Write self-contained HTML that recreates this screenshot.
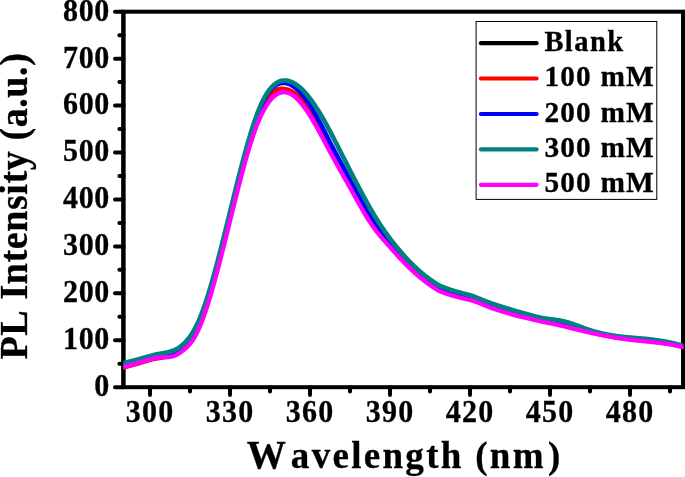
<!DOCTYPE html>
<html><head><meta charset="utf-8"><title>PL Intensity</title>
<style>html,body{margin:0;padding:0;background:#fff;}body{width:685px;height:477px;overflow:hidden;font-family:"Liberation Serif",serif;}svg{display:block;will-change:transform;}</style></head>
<body>
<svg width="685" height="477" viewBox="0 0 685 477">
<rect x="0" y="0" width="685" height="477" fill="#ffffff"/>
<defs><clipPath id="plot"><rect x="123.3" y="11.7" width="560.0999999999999" height="375.5"/></clipPath></defs>
<g stroke="#000" stroke-width="4.0" fill="none" stroke-linecap="round">
<rect x="123.5" y="11.7" width="559.8" height="375.5" stroke-linejoin="miter"/>
<line x1="123.3" y1="11.7" x2="123.3" y2="387.2" stroke-linecap="butt"/>
<line x1="683.05" y1="11.7" x2="683.05" y2="387.2" stroke-linecap="butt"/>
<line x1="123.5" y1="387.20" x2="115.00" y2="387.20"/>
<line x1="123.5" y1="363.73" x2="119.40" y2="363.73"/>
<line x1="123.5" y1="340.26" x2="115.00" y2="340.26"/>
<line x1="123.5" y1="316.79" x2="119.40" y2="316.79"/>
<line x1="123.5" y1="293.32" x2="115.00" y2="293.32"/>
<line x1="123.5" y1="269.86" x2="119.40" y2="269.86"/>
<line x1="123.5" y1="246.39" x2="115.00" y2="246.39"/>
<line x1="123.5" y1="222.92" x2="119.40" y2="222.92"/>
<line x1="123.5" y1="199.45" x2="115.00" y2="199.45"/>
<line x1="123.5" y1="175.98" x2="119.40" y2="175.98"/>
<line x1="123.5" y1="152.51" x2="115.00" y2="152.51"/>
<line x1="123.5" y1="129.04" x2="119.40" y2="129.04"/>
<line x1="123.5" y1="105.57" x2="115.00" y2="105.57"/>
<line x1="123.5" y1="82.11" x2="119.40" y2="82.11"/>
<line x1="123.5" y1="58.64" x2="115.00" y2="58.64"/>
<line x1="123.5" y1="35.17" x2="119.40" y2="35.17"/>
<line x1="123.5" y1="11.70" x2="115.00" y2="11.70"/>
<line x1="150.00" y1="387.2" x2="150.00" y2="395.00"/>
<line x1="190.00" y1="387.2" x2="190.00" y2="391.40"/>
<line x1="230.00" y1="387.2" x2="230.00" y2="395.00"/>
<line x1="270.00" y1="387.2" x2="270.00" y2="391.40"/>
<line x1="310.00" y1="387.2" x2="310.00" y2="395.00"/>
<line x1="350.00" y1="387.2" x2="350.00" y2="391.40"/>
<line x1="390.00" y1="387.2" x2="390.00" y2="395.00"/>
<line x1="430.00" y1="387.2" x2="430.00" y2="391.40"/>
<line x1="470.00" y1="387.2" x2="470.00" y2="395.00"/>
<line x1="510.00" y1="387.2" x2="510.00" y2="391.40"/>
<line x1="550.00" y1="387.2" x2="550.00" y2="395.00"/>
<line x1="590.00" y1="387.2" x2="590.00" y2="391.40"/>
<line x1="630.00" y1="387.2" x2="630.00" y2="395.00"/>
<line x1="670.00" y1="387.2" x2="670.00" y2="391.40"/>
</g>
<g clip-path="url(#plot)" fill="none" stroke-linejoin="round" stroke-linecap="butt">
<path d="M119.0 365.61L119.5 365.47L120.0 365.34L120.5 365.21L121.0 365.08L121.5 364.94L122.0 364.82L122.5 364.69L123.0 364.56L123.5 364.43L124.0 364.30L124.5 364.18L125.0 364.05L125.5 363.92L126.0 363.80L126.5 363.67L127.0 363.55L127.5 363.42L128.0 363.30L128.5 363.17L129.0 363.05L129.5 362.92L130.0 362.80L130.5 362.67L131.0 362.54L131.5 362.42L132.0 362.29L132.5 362.16L133.0 362.03L133.5 361.90L134.0 361.77L134.5 361.64L135.0 361.50L135.5 361.37L136.0 361.24L136.5 361.10L137.0 360.96L137.5 360.82L138.0 360.68L138.5 360.54L139.0 360.40L139.5 360.25L140.0 360.11L140.5 359.96L141.0 359.82L141.5 359.67L142.0 359.52L142.5 359.37L143.0 359.23L143.5 359.08L144.0 358.93L144.5 358.79L145.0 358.64L145.5 358.50L146.0 358.35L146.5 358.21L147.0 358.07L147.5 357.93L148.0 357.79L148.5 357.66L149.0 357.52L149.5 357.39L150.0 357.26L150.5 357.12L151.0 356.98L151.5 356.84L152.0 356.71L152.5 356.58L153.0 356.45L153.5 356.33L154.0 356.21L154.5 356.09L155.0 355.98L155.5 355.87L156.0 355.76L156.5 355.66L157.0 355.56L157.5 355.47L158.0 355.38L158.5 355.30L159.0 355.22L159.5 355.14L160.0 355.07L160.5 355.01L161.0 354.95L161.5 354.89L162.0 354.84L162.5 354.78L163.0 354.72L163.5 354.65L164.0 354.59L164.5 354.53L165.0 354.46L165.5 354.39L166.0 354.32L166.5 354.24L167.0 354.16L167.5 354.07L168.0 353.98L168.5 353.88L169.0 353.78L169.5 353.67L170.0 353.55L170.5 353.42L171.0 353.29L171.5 353.14L172.0 352.99L172.5 352.83L173.0 352.67L173.5 352.49L174.0 352.29L174.5 352.09L175.0 351.88L175.5 351.65L176.0 351.40L176.5 351.14L177.0 350.87L177.5 350.59L178.0 350.29L178.5 349.98L179.0 349.65L179.5 349.31L180.0 348.96L180.5 348.60L181.0 348.22L181.5 347.83L182.0 347.43L182.5 347.02L183.0 346.59L183.5 346.16L184.0 345.71L184.5 345.24L185.0 344.77L185.5 344.28L186.0 343.77L186.5 343.25L187.0 342.72L187.5 342.17L188.0 341.60L188.5 341.01L189.0 340.40L189.5 339.78L190.0 339.13L190.5 338.46L191.0 337.76L191.5 337.04L192.0 336.30L192.5 335.53L193.0 334.74L193.5 333.91L194.0 333.06L194.5 332.18L195.0 331.27L195.5 330.35L196.0 329.40L196.5 328.42L197.0 327.42L197.5 326.38L198.0 325.31L198.5 324.22L199.0 323.10L199.5 321.95L200.0 320.77L200.5 319.56L201.0 318.32L201.5 317.05L202.0 315.76L202.5 314.44L203.0 313.10L203.5 311.73L204.0 310.34L204.5 308.93L205.0 307.49L205.5 306.01L206.0 304.50L206.5 302.98L207.0 301.43L207.5 299.86L208.0 298.27L208.5 296.66L209.0 295.03L209.5 293.38L210.0 291.71L210.5 290.03L211.0 288.32L211.5 286.60L212.0 284.87L212.5 283.11L213.0 281.34L213.5 279.56L214.0 277.76L214.5 275.94L215.0 274.11L215.5 272.28L216.0 270.44L216.5 268.58L217.0 266.71L217.5 264.82L218.0 262.93L218.5 261.02L219.0 259.11L219.5 257.18L220.0 255.25L220.5 253.30L221.0 251.35L221.5 249.39L222.0 247.42L222.5 245.45L223.0 243.47L223.5 241.48L224.0 239.48L224.5 237.48L225.0 235.48L225.5 233.47L226.0 231.45L226.5 229.44L227.0 227.42L227.5 225.39L228.0 223.37L228.5 221.34L229.0 219.31L229.5 217.29L230.0 215.26L230.5 213.23L231.0 211.20L231.5 209.17L232.0 207.14L232.5 205.12L233.0 203.10L233.5 201.08L234.0 199.06L234.5 197.05L235.0 195.04L235.5 193.04L236.0 191.04L236.5 189.04L237.0 187.06L237.5 185.08L238.0 183.10L238.5 181.14L239.0 179.18L239.5 177.23L240.0 175.29L240.5 173.36L241.0 171.43L241.5 169.52L242.0 167.62L242.5 165.73L243.0 163.85L243.5 161.99L244.0 160.13L244.5 158.29L245.0 156.47L245.5 154.66L246.0 152.86L246.5 151.08L247.0 149.31L247.5 147.56L248.0 145.83L248.5 144.12L249.0 142.42L249.5 140.74L250.0 139.09L250.5 137.45L251.0 135.83L251.5 134.23L252.0 132.65L252.5 131.10L253.0 129.57L253.5 128.06L254.0 126.57L254.5 125.11L255.0 123.68L255.5 122.17L256.0 120.68L256.5 119.22L257.0 117.78L257.5 116.37L258.0 114.98L258.5 113.62L259.0 112.29L259.5 110.99L260.0 109.71L260.5 108.46L261.0 107.24L261.5 106.05L262.0 104.88L262.5 103.74L263.0 102.63L263.5 101.55L264.0 100.49L264.5 99.46L265.0 98.46L265.5 97.48L266.0 96.53L266.5 95.61L267.0 94.71L267.5 93.84L268.0 92.99L268.5 92.32L269.0 91.67L269.5 91.04L270.0 90.44L270.5 89.87L271.0 89.32L271.5 88.80L272.0 88.29L272.5 87.82L273.0 87.36L273.5 86.93L274.0 86.53L274.5 86.14L275.0 85.78L275.5 85.44L276.0 85.13L276.5 84.83L277.0 84.56L277.5 84.31L278.0 84.08L278.5 83.87L279.0 83.68L279.5 83.51L280.0 83.36L280.5 83.24L281.0 83.13L281.5 83.04L282.0 82.97L282.5 82.93L283.0 82.90L283.5 82.89L284.0 82.90L284.5 82.92L285.0 82.97L285.5 83.04L286.0 83.12L286.5 83.23L287.0 83.35L287.5 83.49L288.0 83.65L288.5 83.82L289.0 84.01L289.5 84.22L290.0 84.44L290.5 84.68L291.0 84.94L291.5 85.21L292.0 85.50L292.5 85.80L293.0 86.12L293.5 86.46L294.0 86.81L294.5 87.17L295.0 87.55L295.5 87.95L296.0 88.36L296.5 88.79L297.0 89.23L297.5 89.69L298.0 90.16L298.5 90.64L299.0 91.14L299.5 91.65L300.0 92.18L300.5 92.72L301.0 93.28L301.5 93.84L302.0 94.43L302.5 95.02L303.0 95.63L303.5 96.25L304.0 96.89L304.5 97.54L305.0 98.20L305.5 98.87L306.0 99.55L306.5 100.25L307.0 100.95L307.5 101.67L308.0 102.40L308.5 103.14L309.0 103.89L309.5 104.66L310.0 105.43L310.5 106.21L311.0 107.01L311.5 107.81L312.0 108.62L312.5 109.45L313.0 110.28L313.5 111.12L314.0 111.97L314.5 112.83L315.0 113.70L315.5 114.58L316.0 115.46L316.5 116.35L317.0 117.25L317.5 118.16L318.0 119.08L318.5 120.00L319.0 120.93L319.5 121.86L320.0 122.80L320.5 123.75L321.0 124.70L321.5 125.66L322.0 126.63L322.5 127.60L323.0 128.57L323.5 129.55L324.0 130.53L324.5 131.52L325.0 132.51L325.5 133.51L326.0 134.50L326.5 135.50L327.0 136.51L327.5 137.52L328.0 138.52L328.5 139.54L329.0 140.55L329.5 141.56L330.0 142.58L330.5 143.52L331.0 144.46L331.5 145.40L332.0 146.34L332.5 147.27L333.0 148.20L333.5 149.13L334.0 150.07L334.5 151.00L335.0 151.94L335.5 152.87L336.0 153.81L336.5 154.75L337.0 155.68L337.5 156.62L338.0 157.56L338.5 158.49L339.0 159.42L339.5 160.35L340.0 161.28L340.5 162.21L341.0 163.14L341.5 164.07L342.0 165.01L342.5 165.94L343.0 166.87L343.5 167.80L344.0 168.73L344.5 169.66L345.0 170.60L345.5 171.53L346.0 172.46L346.5 173.39L347.0 174.32L347.5 175.25L348.0 176.18L348.5 177.11L349.0 178.04L349.5 178.97L350.0 179.90L350.5 180.84L351.0 181.78L351.5 182.71L352.0 183.65L352.5 184.58L353.0 185.52L353.5 186.45L354.0 187.38L354.5 188.31L355.0 189.24L355.5 190.16L356.0 191.08L356.5 192.00L357.0 192.92L357.5 193.84L358.0 194.75L358.5 195.66L359.0 196.56L359.5 197.48L360.0 198.40L360.5 199.32L361.0 200.23L361.5 201.14L362.0 202.04L362.5 202.94L363.0 203.83L363.5 204.72L364.0 205.60L364.5 206.48L365.0 207.36L365.5 208.22L366.0 209.09L366.5 209.95L367.0 210.80L367.5 211.65L368.0 212.49L368.5 213.32L369.0 214.15L369.5 214.98L370.0 215.80L370.5 216.60L371.0 217.40L371.5 218.19L372.0 218.98L372.5 219.76L373.0 220.53L373.5 221.30L374.0 222.05L374.5 222.81L375.0 223.55L375.5 224.29L376.0 225.02L376.5 225.74L377.0 226.46L377.5 227.17L378.0 227.87L378.5 228.57L379.0 229.26L379.5 229.95L380.0 230.63L380.5 231.29L381.0 231.95L381.5 232.60L382.0 233.25L382.5 233.89L383.0 234.53L383.5 235.16L384.0 235.79L384.5 236.42L385.0 237.04L385.5 237.65L386.0 238.26L386.5 238.90L387.0 239.54L387.5 240.17L388.0 240.80L388.5 241.42L389.0 242.04L389.5 242.66L390.0 243.28L390.5 243.89L391.0 244.50L391.5 245.11L392.0 245.71L392.5 246.31L393.0 246.91L393.5 247.50L394.0 248.10L394.5 248.69L395.0 249.27L395.5 249.86L396.0 250.44L396.5 251.02L397.0 251.59L397.5 252.16L398.0 252.73L398.5 253.30L399.0 253.86L399.5 254.42L400.0 254.98L400.5 255.53L401.0 256.09L401.5 256.64L402.0 257.19L402.5 257.74L403.0 258.28L403.5 258.82L404.0 259.36L404.5 259.90L405.0 260.43L405.5 260.95L406.0 261.48L406.5 262.00L407.0 262.52L407.5 263.03L408.0 263.55L408.5 264.06L409.0 264.56L409.5 265.06L410.0 265.56L410.5 266.06L411.0 266.55L411.5 267.04L412.0 267.53L412.5 268.01L413.0 268.49L413.5 268.97L414.0 269.44L414.5 269.91L415.0 270.37L415.5 270.83L416.0 271.28L416.5 271.73L417.0 272.17L417.5 272.62L418.0 273.06L418.5 273.49L419.0 273.92L419.5 274.35L420.0 274.77L420.5 275.20L421.0 275.61L421.5 276.03L422.0 276.44L422.5 276.85L423.0 277.25L423.5 277.65L424.0 278.05L424.5 278.44L425.0 278.83L425.5 279.21L426.0 279.60L426.5 279.98L427.0 280.35L427.5 280.72L428.0 281.09L428.5 281.46L429.0 281.82L429.5 282.17L430.0 282.53L430.5 282.88L431.0 283.23L431.5 283.58L432.0 283.93L432.5 284.27L433.0 284.60L433.5 284.94L434.0 285.27L434.5 285.59L435.0 285.92L435.5 286.24L436.0 286.55L436.5 286.86L437.0 287.17L437.5 287.48L438.0 287.78L438.5 288.08L439.0 288.37L439.5 288.59L440.0 288.81L440.5 289.02L441.0 289.23L441.5 289.44L442.0 289.64L442.5 289.84L443.0 290.04L443.5 290.23L444.0 290.42L444.5 290.61L445.0 290.79L445.5 290.98L446.0 291.16L446.5 291.33L447.0 291.51L447.5 291.68L448.0 291.85L448.5 292.01L449.0 292.18L449.5 292.34L450.0 292.50L450.5 292.65L451.0 292.81L451.5 292.96L452.0 293.12L452.5 293.27L453.0 293.42L453.5 293.57L454.0 293.72L454.5 293.86L455.0 294.01L455.5 294.15L456.0 294.29L456.5 294.43L457.0 294.57L457.5 294.70L458.0 294.84L458.5 294.97L459.0 295.10L459.5 295.23L460.0 295.36L460.5 295.49L461.0 295.62L461.5 295.75L462.0 295.88L462.5 296.00L463.0 296.13L463.5 296.25L464.0 296.37L464.5 296.50L465.0 296.62L465.5 296.74L466.0 296.86L466.5 296.98L467.0 297.10L467.5 297.23L468.0 297.35L468.5 297.47L469.0 297.59L469.5 297.71L470.0 297.83L470.5 297.95L471.0 298.07L471.5 298.19L472.0 298.32L472.5 298.50L473.0 298.70L473.5 298.89L474.0 299.08L474.5 299.27L475.0 299.46L475.5 299.65L476.0 299.85L476.5 300.04L477.0 300.23L477.5 300.43L478.0 300.62L478.5 300.82L479.0 301.02L479.5 301.22L480.0 301.42L480.5 301.62L481.0 301.82L481.5 302.02L482.0 302.22L482.5 302.42L483.0 302.63L483.5 302.83L484.0 303.04L484.5 303.25L485.0 303.45L485.5 303.64L486.0 303.83L486.5 304.02L487.0 304.21L487.5 304.40L488.0 304.60L488.5 304.79L489.0 304.98L489.5 305.17L490.0 305.37L490.5 305.56L491.0 305.75L491.5 305.95L492.0 306.14L492.5 306.30L493.0 306.47L493.5 306.63L494.0 306.79L494.5 306.95L495.0 307.12L495.5 307.28L496.0 307.44L496.5 307.60L497.0 307.76L497.5 307.92L498.0 308.08L498.5 308.24L499.0 308.40L499.5 308.56L500.0 308.72L500.5 308.88L501.0 309.03L501.5 309.19L502.0 309.35L502.5 309.50L503.0 309.66L503.5 309.81L504.0 309.96L504.5 310.11L505.0 310.26L505.5 310.41L506.0 310.56L506.5 310.71L507.0 310.85L507.5 311.00L508.0 311.14L508.5 311.31L509.0 311.47L509.5 311.63L510.0 311.79L510.5 311.94L511.0 312.10L511.5 312.25L512.0 312.41L512.5 312.56L513.0 312.71L513.5 312.85L514.0 313.00L514.5 313.14L515.0 313.29L515.5 313.43L516.0 313.56L516.5 313.70L517.0 313.84L517.5 313.97L518.0 314.10L518.5 314.23L519.0 314.36L519.5 314.49L520.0 314.62L520.5 314.74L521.0 314.87L521.5 314.99L522.0 315.11L522.5 315.23L523.0 315.34L523.5 315.46L524.0 315.57L524.5 315.69L525.0 315.80L525.5 315.91L526.0 316.02L526.5 316.16L527.0 316.30L527.5 316.44L528.0 316.57L528.5 316.71L529.0 316.84L529.5 316.98L530.0 317.11L530.5 317.24L531.0 317.37L531.5 317.50L532.0 317.63L532.5 317.76L533.0 317.88L533.5 318.01L534.0 318.13L534.5 318.25L535.0 318.38L535.5 318.50L536.0 318.62L536.5 318.74L537.0 318.86L537.5 318.98L538.0 319.09L538.5 319.21L539.0 319.33L539.5 319.44L540.0 319.56L540.5 319.67L541.0 319.79L541.5 319.90L542.0 320.01L542.5 320.12L543.0 320.23L543.5 320.34L544.0 320.45L544.5 320.54L545.0 320.62L545.5 320.70L546.0 320.78L546.5 320.86L547.0 320.94L547.5 321.02L548.0 321.10L548.5 321.18L549.0 321.26L549.5 321.34L550.0 321.42L550.5 321.50L551.0 321.58L551.5 321.66L552.0 321.75L552.5 321.83L553.0 321.92L553.5 322.00L554.0 322.09L554.5 322.18L555.0 322.27L555.5 322.36L556.0 322.45L556.5 322.54L557.0 322.64L557.5 322.73L558.0 322.83L558.5 322.93L559.0 323.03L559.5 323.13L560.0 323.23L560.5 323.34L561.0 323.44L561.5 323.55L562.0 323.66L562.5 323.78L563.0 323.89L563.5 324.01L564.0 324.13L564.5 324.25L565.0 324.37L565.5 324.49L566.0 324.62L566.5 324.75L567.0 324.88L567.5 325.01L568.0 325.14L568.5 325.28L569.0 325.42L569.5 325.55L570.0 325.69L570.5 325.83L571.0 325.97L571.5 326.12L572.0 326.26L572.5 326.41L573.0 326.55L573.5 326.70L574.0 326.84L574.5 326.99L575.0 327.14L575.5 327.29L576.0 327.44L576.5 327.59L577.0 327.74L577.5 327.89L578.0 328.04L578.5 328.19L579.0 328.34L579.5 328.49L580.0 328.64L580.5 328.78L581.0 328.93L581.5 329.08L582.0 329.23L582.5 329.38L583.0 329.53L583.5 329.68L584.0 329.82L584.5 329.97L585.0 330.11L585.5 330.26L586.0 330.40L586.5 330.55L587.0 330.69L587.5 330.83L588.0 330.97L588.5 331.11L589.0 331.25L589.5 331.38L590.0 331.52L590.5 331.65L591.0 331.78L591.5 331.91L592.0 332.04L592.5 332.17L593.0 332.30L593.5 332.43L594.0 332.55L594.5 332.67L595.0 332.80L595.5 332.92L596.0 333.04L596.5 333.16L597.0 333.27L597.5 333.39L598.0 333.50L598.5 333.62L599.0 333.73L599.5 333.84L600.0 333.95L600.5 334.06L601.0 334.17L601.5 334.28L602.0 334.38L602.5 334.49L603.0 334.59L603.5 334.69L604.0 334.80L604.5 334.90L605.0 335.00L605.5 335.10L606.0 335.19L606.5 335.29L607.0 335.38L607.5 335.48L608.0 335.57L608.5 335.66L609.0 335.76L609.5 335.85L610.0 335.94L610.5 336.02L611.0 336.11L611.5 336.20L612.0 336.28L612.5 336.37L613.0 336.45L613.5 336.54L614.0 336.62L614.5 336.70L615.0 336.78L615.5 336.86L616.0 336.94L616.5 337.02L617.0 337.09L617.5 337.17L618.0 337.24L618.5 337.32L619.0 337.39L619.5 337.46L620.0 337.54L620.5 337.60L621.0 337.67L621.5 337.74L622.0 337.80L622.5 337.86L623.0 337.93L623.5 337.99L624.0 338.05L624.5 338.11L625.0 338.17L625.5 338.23L626.0 338.29L626.5 338.35L627.0 338.41L627.5 338.46L628.0 338.52L628.5 338.58L629.0 338.63L629.5 338.69L630.0 338.74L630.5 338.79L631.0 338.85L631.5 338.90L632.0 338.95L632.5 339.00L633.0 339.05L633.5 339.10L634.0 339.15L634.5 339.20L635.0 339.25L635.5 339.30L636.0 339.35L636.5 339.40L637.0 339.45L637.5 339.49L638.0 339.54L638.5 339.59L639.0 339.64L639.5 339.68L640.0 339.73L640.5 339.78L641.0 339.82L641.5 339.87L642.0 339.92L642.5 339.97L643.0 340.01L643.5 340.06L644.0 340.11L644.5 340.15L645.0 340.20L645.5 340.25L646.0 340.30L646.5 340.34L647.0 340.39L647.5 340.45L648.0 340.50L648.5 340.56L649.0 340.61L649.5 340.67L650.0 340.72L650.5 340.78L651.0 340.84L651.5 340.89L652.0 340.95L652.5 341.01L653.0 341.07L653.5 341.13L654.0 341.19L654.5 341.25L655.0 341.31L655.5 341.37L656.0 341.44L656.5 341.50L657.0 341.56L657.5 341.63L658.0 341.69L658.5 341.76L659.0 341.83L659.5 341.89L660.0 341.96L660.5 342.03L661.0 342.10L661.5 342.18L662.0 342.25L662.5 342.32L663.0 342.40L663.5 342.47L664.0 342.55L664.5 342.63L665.0 342.71L665.5 342.79L666.0 342.87L666.5 342.95L667.0 343.03L667.5 343.12L668.0 343.21L668.5 343.29L669.0 343.38L669.5 343.47L670.0 343.56L670.5 343.66L671.0 343.75L671.5 343.85L672.0 343.94L672.5 344.04L673.0 344.14L673.5 344.25L674.0 344.35L674.5 344.45L675.0 344.56L675.5 344.67L676.0 344.79L676.5 344.90L677.0 345.02L677.5 345.13L678.0 345.25L678.5 345.38L679.0 345.50L679.5 345.62L680.0 345.75L680.5 345.88L681.0 346.01L681.5 346.14L682.0 346.28L682.5 346.42L683.0 346.55L683.5 346.70L684.0 346.84L684.5 346.98L685.0 347.13L685.5 347.28L686.0 347.43L686.5 347.58L687.0 347.74L687.5 347.90L688.0 348.06L688.5 348.22L689.0 348.39L689.5 348.55L690.0 348.72" stroke="#000000" stroke-width="2.6"/>
<path d="M119.0 368.82L119.5 368.66L120.0 368.51L120.5 368.36L121.0 368.21L121.5 368.06L122.0 367.92L122.5 367.77L123.0 367.63L123.5 367.49L124.0 367.35L124.5 367.21L125.0 367.07L125.5 366.94L126.0 366.80L126.5 366.67L127.0 366.53L127.5 366.40L128.0 366.27L128.5 366.13L129.0 366.00L129.5 365.87L130.0 365.74L130.5 365.60L131.0 365.47L131.5 365.34L132.0 365.20L132.5 365.07L133.0 364.94L133.5 364.80L134.0 364.66L134.5 364.53L135.0 364.39L135.5 364.25L136.0 364.11L136.5 363.96L137.0 363.82L137.5 363.67L138.0 363.53L138.5 363.38L139.0 363.23L139.5 363.07L140.0 362.92L140.5 362.77L141.0 362.61L141.5 362.46L142.0 362.30L142.5 362.15L143.0 361.99L143.5 361.83L144.0 361.68L144.5 361.52L145.0 361.37L145.5 361.22L146.0 361.07L146.5 360.91L147.0 360.77L147.5 360.62L148.0 360.47L148.5 360.33L149.0 360.19L149.5 360.05L150.0 359.91L150.5 359.78L151.0 359.65L151.5 359.53L152.0 359.41L152.5 359.29L153.0 359.17L153.5 359.06L154.0 358.96L154.5 358.85L155.0 358.76L155.5 358.66L156.0 358.57L156.5 358.49L157.0 358.41L157.5 358.34L158.0 358.27L158.5 358.21L159.0 358.15L159.5 358.10L160.0 358.05L160.5 357.93L161.0 357.82L161.5 357.70L162.0 357.58L162.5 357.45L163.0 357.33L163.5 357.20L164.0 357.06L164.5 356.92L165.0 356.78L165.5 356.62L166.0 356.46L166.5 356.30L167.0 356.12L167.5 355.94L168.0 355.75L168.5 355.54L169.0 355.33L169.5 355.11L170.0 354.87L170.5 354.62L171.0 354.36L171.5 354.09L172.0 353.80L172.5 353.65L173.0 353.48L173.5 353.30L174.0 353.12L174.5 352.92L175.0 352.70L175.5 352.48L176.0 352.23L176.5 351.98L177.0 351.71L177.5 351.43L178.0 351.13L178.5 350.82L179.0 350.50L179.5 350.17L180.0 349.82L180.5 349.46L181.0 349.09L181.5 348.71L182.0 348.32L182.5 347.91L183.0 347.50L183.5 347.07L184.0 346.63L184.5 346.18L185.0 345.71L185.5 345.23L186.0 344.74L186.5 344.23L187.0 343.71L187.5 343.17L188.0 342.62L188.5 342.04L189.0 341.45L189.5 340.83L190.0 340.19L190.5 339.54L191.0 338.85L191.5 338.15L192.0 337.42L192.5 336.66L193.0 335.88L193.5 335.07L194.0 334.23L194.5 333.36L195.0 332.46L195.5 331.54L196.0 330.60L196.5 329.63L197.0 328.63L197.5 327.60L198.0 326.54L198.5 325.45L199.0 324.34L199.5 323.19L200.0 322.02L200.5 320.81L201.0 319.57L201.5 318.31L202.0 317.02L202.5 315.70L203.0 314.36L203.5 312.99L204.0 311.60L204.5 310.19L205.0 308.75L205.5 307.27L206.0 305.77L206.5 304.25L207.0 302.70L207.5 301.13L208.0 299.55L208.5 297.94L209.0 296.31L209.5 294.67L210.0 293.00L210.5 291.32L211.0 289.61L211.5 287.89L212.0 286.16L212.5 284.40L213.0 282.64L213.5 280.85L214.0 279.05L214.5 277.24L215.0 275.41L215.5 273.58L216.0 271.73L216.5 269.88L217.0 268.01L217.5 266.13L218.0 264.24L218.5 262.34L219.0 260.42L219.5 258.50L220.0 256.57L220.5 254.62L221.0 252.67L221.5 250.71L222.0 248.75L222.5 246.77L223.0 244.79L223.5 242.80L224.0 240.81L224.5 238.81L225.0 236.81L225.5 234.80L226.0 232.79L226.5 230.77L227.0 228.75L227.5 226.73L228.0 224.71L228.5 222.68L229.0 220.65L229.5 218.62L230.0 216.59L230.5 214.57L231.0 212.54L231.5 210.51L232.0 208.49L232.5 206.46L233.0 204.44L233.5 202.42L234.0 200.41L234.5 198.40L235.0 196.39L235.5 194.39L236.0 192.39L236.5 190.40L237.0 188.41L237.5 186.43L238.0 184.46L238.5 182.50L239.0 180.54L239.5 178.59L240.0 176.65L240.5 174.72L241.0 172.80L241.5 170.90L242.0 169.00L242.5 167.11L243.0 165.24L243.5 163.38L244.0 161.53L244.5 159.69L245.0 157.87L245.5 156.06L246.0 154.27L246.5 152.50L247.0 150.74L247.5 148.99L248.0 147.27L248.5 145.56L249.0 143.87L249.5 142.20L250.0 140.55L250.5 138.92L251.0 137.31L251.5 135.72L252.0 134.15L252.5 132.60L253.0 131.08L253.5 129.58L254.0 128.10L254.5 126.65L255.0 125.22L255.5 123.82L256.0 122.44L256.5 121.09L257.0 119.76L257.5 118.47L258.0 117.20L258.5 115.95L259.0 114.74L259.5 113.55L260.0 112.39L260.5 111.26L261.0 110.15L261.5 109.08L262.0 108.03L262.5 107.01L263.0 106.01L263.5 105.05L264.0 104.11L264.5 103.19L265.0 102.31L265.5 101.45L266.0 100.61L266.5 99.80L267.0 99.02L267.5 98.26L268.0 97.53L268.5 96.83L269.0 96.14L269.5 95.49L270.0 94.85L270.5 94.34L271.0 93.84L271.5 93.38L272.0 92.93L272.5 92.51L273.0 92.11L273.5 91.74L274.0 91.39L274.5 91.06L275.0 90.76L275.5 90.47L276.0 90.21L276.5 89.97L277.0 89.76L277.5 89.56L278.0 89.39L278.5 89.24L279.0 89.11L279.5 89.00L280.0 88.92L280.5 88.85L281.0 88.81L281.5 88.78L282.0 88.78L282.5 88.80L283.0 88.83L283.5 88.89L284.0 88.97L284.5 89.07L285.0 89.18L285.5 89.23L286.0 89.30L286.5 89.38L287.0 89.49L287.5 89.61L288.0 89.76L288.5 89.92L289.0 90.09L289.5 90.29L290.0 90.51L290.5 90.74L291.0 90.99L291.5 91.26L292.0 91.54L292.5 91.85L293.0 92.16L293.5 92.50L294.0 92.85L294.5 93.22L295.0 93.61L295.5 94.01L296.0 94.43L296.5 94.86L297.0 95.31L297.5 95.77L298.0 96.25L298.5 96.74L299.0 97.25L299.5 97.77L300.0 98.31L300.5 98.85L301.0 99.41L301.5 99.98L302.0 100.56L302.5 101.16L303.0 101.77L303.5 102.39L304.0 103.02L304.5 103.67L305.0 104.32L305.5 104.99L306.0 105.67L306.5 106.36L307.0 107.06L307.5 107.77L308.0 108.49L308.5 109.22L309.0 109.96L309.5 110.71L310.0 111.47L310.5 112.23L311.0 113.01L311.5 113.80L312.0 114.59L312.5 115.39L313.0 116.20L313.5 117.01L314.0 117.84L314.5 118.67L315.0 119.51L315.5 120.35L316.0 121.20L316.5 122.06L317.0 122.92L317.5 123.79L318.0 124.66L318.5 125.54L319.0 126.43L319.5 127.31L320.0 128.21L320.5 129.11L321.0 130.01L321.5 130.91L322.0 131.82L322.5 132.74L323.0 133.65L323.5 134.57L324.0 135.49L324.5 136.42L325.0 137.34L325.5 138.27L326.0 139.20L326.5 140.13L327.0 141.06L327.5 142.00L328.0 142.93L328.5 143.87L329.0 144.80L329.5 145.74L330.0 146.67L330.5 147.61L331.0 148.55L331.5 149.48L332.0 150.42L332.5 151.34L333.0 152.25L333.5 153.17L334.0 154.09L334.5 155.01L335.0 155.93L335.5 156.85L336.0 157.77L336.5 158.69L337.0 159.60L337.5 160.52L338.0 161.44L338.5 162.35L339.0 163.27L339.5 164.18L340.0 165.09L340.5 166.00L341.0 166.92L341.5 167.83L342.0 168.74L342.5 169.65L343.0 170.56L343.5 171.47L344.0 172.39L344.5 173.30L345.0 174.21L345.5 175.12L346.0 176.03L346.5 176.94L347.0 177.85L347.5 178.76L348.0 179.67L348.5 180.58L349.0 181.49L349.5 182.40L350.0 183.31L350.5 184.24L351.0 185.16L351.5 186.08L352.0 187.00L352.5 187.92L353.0 188.84L353.5 189.76L354.0 190.68L354.5 191.60L355.0 192.52L355.5 193.43L356.0 194.34L356.5 195.25L357.0 196.16L357.5 197.07L358.0 197.97L358.5 198.87L359.0 199.77L359.5 200.67L360.0 201.57L360.5 202.47L361.0 203.37L361.5 204.26L362.0 205.14L362.5 206.02L363.0 206.90L363.5 207.77L364.0 208.64L364.5 209.50L365.0 210.36L365.5 211.21L366.0 212.06L366.5 212.90L367.0 213.74L367.5 214.57L368.0 215.39L368.5 216.21L369.0 217.02L369.5 217.82L370.0 218.62L370.5 219.41L371.0 220.18L371.5 220.95L372.0 221.71L372.5 222.47L373.0 223.21L373.5 223.95L374.0 224.68L374.5 225.40L375.0 226.12L375.5 226.83L376.0 227.52L376.5 228.22L377.0 228.90L377.5 229.58L378.0 230.25L378.5 230.91L379.0 231.57L379.5 232.22L380.0 232.86L380.5 233.49L381.0 234.12L381.5 234.74L382.0 235.36L382.5 235.97L383.0 236.57L383.5 237.17L384.0 237.77L384.5 238.36L385.0 238.94L385.5 239.53L386.0 240.10L386.5 240.72L387.0 241.34L387.5 241.95L388.0 242.56L388.5 243.16L389.0 243.76L389.5 244.36L390.0 244.96L390.5 245.56L391.0 246.15L391.5 246.74L392.0 247.33L392.5 247.91L393.0 248.50L393.5 249.08L394.0 249.66L394.5 250.23L395.0 250.81L395.5 251.38L396.0 251.95L396.5 252.51L397.0 253.08L397.5 253.64L398.0 254.20L398.5 254.76L399.0 255.31L399.5 255.86L400.0 256.41L400.5 256.96L401.0 257.50L401.5 258.04L402.0 258.58L402.5 259.11L403.0 259.64L403.5 260.17L404.0 260.70L404.5 261.22L405.0 261.75L405.5 262.26L406.0 262.78L406.5 263.29L407.0 263.80L407.5 264.31L408.0 264.82L408.5 265.32L409.0 265.82L409.5 266.31L410.0 266.81L410.5 267.30L411.0 267.79L411.5 268.27L412.0 268.75L412.5 269.23L413.0 269.71L413.5 270.18L414.0 270.65L414.5 271.12L415.0 271.58L415.5 272.03L416.0 272.48L416.5 272.92L417.0 273.36L417.5 273.79L418.0 274.23L418.5 274.66L419.0 275.09L419.5 275.51L420.0 275.93L420.5 276.35L421.0 276.76L421.5 277.17L422.0 277.58L422.5 277.99L423.0 278.39L423.5 278.79L424.0 279.18L424.5 279.57L425.0 279.96L425.5 280.34L426.0 280.73L426.5 281.10L427.0 281.48L427.5 281.85L428.0 282.22L428.5 282.58L429.0 282.94L429.5 283.30L430.0 283.65L430.5 284.00L431.0 284.35L431.5 284.70L432.0 285.04L432.5 285.38L433.0 285.71L433.5 286.05L434.0 286.37L434.5 286.70L435.0 287.02L435.5 287.34L436.0 287.65L436.5 287.96L437.0 288.27L437.5 288.57L438.0 288.87L438.5 289.16L439.0 289.46L439.5 289.68L440.0 289.89L440.5 290.10L441.0 290.31L441.5 290.52L442.0 290.72L442.5 290.92L443.0 291.11L443.5 291.30L444.0 291.49L444.5 291.68L445.0 291.86L445.5 292.04L446.0 292.21L446.5 292.39L447.0 292.56L447.5 292.73L448.0 292.89L448.5 293.05L449.0 293.21L449.5 293.37L450.0 293.53L450.5 293.68L451.0 293.83L451.5 293.98L452.0 294.14L452.5 294.29L453.0 294.44L453.5 294.59L454.0 294.74L454.5 294.88L455.0 295.02L455.5 295.17L456.0 295.30L456.5 295.44L457.0 295.58L457.5 295.71L458.0 295.85L458.5 295.98L459.0 296.11L459.5 296.24L460.0 296.37L460.5 296.49L461.0 296.62L461.5 296.74L462.0 296.87L462.5 296.99L463.0 297.11L463.5 297.24L464.0 297.36L464.5 297.48L465.0 297.60L465.5 297.72L466.0 297.83L466.5 297.95L467.0 298.07L467.5 298.19L468.0 298.31L468.5 298.42L469.0 298.54L469.5 298.66L470.0 298.78L470.5 298.89L471.0 299.01L471.5 299.13L472.0 299.25L472.5 299.44L473.0 299.62L473.5 299.81L474.0 300.00L474.5 300.18L475.0 300.37L475.5 300.56L476.0 300.75L476.5 300.94L477.0 301.13L477.5 301.32L478.0 301.52L478.5 301.71L479.0 301.91L479.5 302.10L480.0 302.30L480.5 302.50L481.0 302.70L481.5 302.90L482.0 303.10L482.5 303.30L483.0 303.50L483.5 303.71L484.0 303.92L484.5 304.12L485.0 304.33L485.5 304.52L486.0 304.71L486.5 304.91L487.0 305.10L487.5 305.30L488.0 305.49L488.5 305.69L489.0 305.88L489.5 306.08L490.0 306.28L490.5 306.47L491.0 306.67L491.5 306.87L492.0 307.07L492.5 307.23L493.0 307.39L493.5 307.55L494.0 307.71L494.5 307.87L495.0 308.04L495.5 308.20L496.0 308.36L496.5 308.52L497.0 308.68L497.5 308.84L498.0 309.00L498.5 309.16L499.0 309.32L499.5 309.47L500.0 309.63L500.5 309.79L501.0 309.94L501.5 310.10L502.0 310.25L502.5 310.41L503.0 310.56L503.5 310.71L504.0 310.86L504.5 311.01L505.0 311.16L505.5 311.31L506.0 311.46L506.5 311.60L507.0 311.75L507.5 311.89L508.0 312.03L508.5 312.19L509.0 312.36L509.5 312.52L510.0 312.68L510.5 312.83L511.0 312.99L511.5 313.15L512.0 313.30L512.5 313.45L513.0 313.60L513.5 313.74L514.0 313.89L514.5 314.03L515.0 314.17L515.5 314.31L516.0 314.45L516.5 314.58L517.0 314.71L517.5 314.84L518.0 314.97L518.5 315.10L519.0 315.23L519.5 315.35L520.0 315.47L520.5 315.59L521.0 315.71L521.5 315.83L522.0 315.94L522.5 316.06L523.0 316.17L523.5 316.28L524.0 316.39L524.5 316.50L525.0 316.61L525.5 316.71L526.0 316.82L526.5 316.95L527.0 317.09L527.5 317.22L528.0 317.35L528.5 317.48L529.0 317.62L529.5 317.74L530.0 317.87L530.5 318.00L531.0 318.13L531.5 318.25L532.0 318.38L532.5 318.50L533.0 318.62L533.5 318.75L534.0 318.87L534.5 318.99L535.0 319.11L535.5 319.23L536.0 319.35L536.5 319.46L537.0 319.58L537.5 319.70L538.0 319.82L538.5 319.93L539.0 320.05L539.5 320.17L540.0 320.28L540.5 320.40L541.0 320.51L541.5 320.63L542.0 320.74L542.5 320.86L543.0 320.97L543.5 321.08L544.0 321.20L544.5 321.28L545.0 321.37L545.5 321.45L546.0 321.54L546.5 321.62L547.0 321.70L547.5 321.79L548.0 321.88L548.5 321.96L549.0 322.05L549.5 322.14L550.0 322.22L550.5 322.31L551.0 322.40L551.5 322.49L552.0 322.59L552.5 322.68L553.0 322.77L553.5 322.87L554.0 322.96L554.5 323.06L555.0 323.16L555.5 323.26L556.0 323.36L556.5 323.46L557.0 323.56L557.5 323.66L558.0 323.77L558.5 323.87L559.0 323.98L559.5 324.09L560.0 324.20L560.5 324.31L561.0 324.42L561.5 324.53L562.0 324.65L562.5 324.76L563.0 324.88L563.5 325.00L564.0 325.12L564.5 325.24L565.0 325.36L565.5 325.48L566.0 325.61L566.5 325.73L567.0 325.86L567.5 325.99L568.0 326.12L568.5 326.25L569.0 326.38L569.5 326.51L570.0 326.64L570.5 326.77L571.0 326.91L571.5 327.04L572.0 327.18L572.5 327.31L573.0 327.45L573.5 327.58L574.0 327.72L574.5 327.86L575.0 327.99L575.5 328.13L576.0 328.27L576.5 328.41L577.0 328.54L577.5 328.68L578.0 328.82L578.5 328.95L579.0 329.09L579.5 329.23L580.0 329.36L580.5 329.50L581.0 329.64L581.5 329.77L582.0 329.91L582.5 330.04L583.0 330.18L583.5 330.31L584.0 330.44L584.5 330.58L585.0 330.71L585.5 330.84L586.0 330.97L586.5 331.10L587.0 331.23L587.5 331.36L588.0 331.49L588.5 331.62L589.0 331.74L589.5 331.87L590.0 332.00L590.5 332.12L591.0 332.24L591.5 332.36L592.0 332.49L592.5 332.61L593.0 332.72L593.5 332.84L594.0 332.96L594.5 333.08L595.0 333.19L595.5 333.31L596.0 333.42L596.5 333.53L597.0 333.65L597.5 333.76L598.0 333.87L598.5 333.98L599.0 334.09L599.5 334.19L600.0 334.30L600.5 334.41L601.0 334.51L601.5 334.62L602.0 334.72L602.5 334.82L603.0 334.93L603.5 335.03L604.0 335.13L604.5 335.23L605.0 335.32L605.5 335.42L606.0 335.52L606.5 335.61L607.0 335.71L607.5 335.80L608.0 335.90L608.5 335.99L609.0 336.08L609.5 336.17L610.0 336.26L610.5 336.35L611.0 336.44L611.5 336.53L612.0 336.61L612.5 336.70L613.0 336.78L613.5 336.87L614.0 336.95L614.5 337.04L615.0 337.12L615.5 337.20L616.0 337.28L616.5 337.36L617.0 337.44L617.5 337.52L618.0 337.59L618.5 337.67L619.0 337.75L619.5 337.82L620.0 337.89L620.5 337.97L621.0 338.04L621.5 338.11L622.0 338.17L622.5 338.24L623.0 338.31L623.5 338.38L624.0 338.44L624.5 338.51L625.0 338.57L625.5 338.64L626.0 338.70L626.5 338.76L627.0 338.82L627.5 338.88L628.0 338.94L628.5 339.00L629.0 339.06L629.5 339.12L630.0 339.18L630.5 339.23L631.0 339.29L631.5 339.34L632.0 339.40L632.5 339.45L633.0 339.51L633.5 339.56L634.0 339.61L634.5 339.66L635.0 339.72L635.5 339.77L636.0 339.82L636.5 339.87L637.0 339.92L637.5 339.97L638.0 340.02L638.5 340.07L639.0 340.12L639.5 340.17L640.0 340.22L640.5 340.26L641.0 340.31L641.5 340.36L642.0 340.41L642.5 340.46L643.0 340.51L643.5 340.56L644.0 340.60L644.5 340.65L645.0 340.70L645.5 340.75L646.0 340.80L646.5 340.85L647.0 340.90L647.5 340.95L648.0 341.00L648.5 341.05L649.0 341.11L649.5 341.16L650.0 341.21L650.5 341.27L651.0 341.32L651.5 341.38L652.0 341.43L652.5 341.49L653.0 341.55L653.5 341.60L654.0 341.66L654.5 341.72L655.0 341.78L655.5 341.84L656.0 341.90L656.5 341.96L657.0 342.02L657.5 342.08L658.0 342.14L658.5 342.21L659.0 342.27L659.5 342.34L660.0 342.40L660.5 342.47L661.0 342.54L661.5 342.60L662.0 342.67L662.5 342.74L663.0 342.82L663.5 342.89L664.0 342.96L664.5 343.04L665.0 343.11L665.5 343.19L666.0 343.27L666.5 343.34L667.0 343.42L667.5 343.51L668.0 343.59L668.5 343.67L669.0 343.76L669.5 343.84L670.0 343.93L670.5 344.02L671.0 344.11L671.5 344.20L672.0 344.30L672.5 344.39L673.0 344.49L673.5 344.59L674.0 344.69L674.5 344.79L675.0 344.89L675.5 345.00L676.0 345.10L676.5 345.21L677.0 345.33L677.5 345.44L678.0 345.55L678.5 345.67L679.0 345.79L679.5 345.91L680.0 346.03L680.5 346.15L681.0 346.28L681.5 346.40L682.0 346.53L682.5 346.67L683.0 346.80L683.5 346.93L684.0 347.07L684.5 347.21L685.0 347.35L685.5 347.50L686.0 347.64L686.5 347.79L687.0 347.94L687.5 348.09L688.0 348.25L688.5 348.41L689.0 348.56L689.5 348.73L690.0 348.89" stroke="#ff0000" stroke-width="4.5"/>
<path d="M119.0 365.61L119.5 365.47L120.0 365.34L120.5 365.21L121.0 365.08L121.5 364.94L122.0 364.82L122.5 364.69L123.0 364.56L123.5 364.43L124.0 364.30L124.5 364.18L125.0 364.05L125.5 363.92L126.0 363.80L126.5 363.67L127.0 363.55L127.5 363.42L128.0 363.30L128.5 363.17L129.0 363.05L129.5 362.92L130.0 362.80L130.5 362.67L131.0 362.54L131.5 362.42L132.0 362.29L132.5 362.16L133.0 362.03L133.5 361.90L134.0 361.77L134.5 361.64L135.0 361.50L135.5 361.37L136.0 361.24L136.5 361.10L137.0 360.96L137.5 360.82L138.0 360.68L138.5 360.54L139.0 360.40L139.5 360.25L140.0 360.11L140.5 359.96L141.0 359.82L141.5 359.67L142.0 359.52L142.5 359.37L143.0 359.23L143.5 359.08L144.0 358.93L144.5 358.79L145.0 358.64L145.5 358.50L146.0 358.35L146.5 358.21L147.0 358.07L147.5 357.93L148.0 357.79L148.5 357.66L149.0 357.52L149.5 357.39L150.0 357.26L150.5 357.12L151.0 356.98L151.5 356.84L152.0 356.71L152.5 356.58L153.0 356.45L153.5 356.33L154.0 356.21L154.5 356.09L155.0 355.98L155.5 355.87L156.0 355.76L156.5 355.66L157.0 355.56L157.5 355.47L158.0 355.38L158.5 355.30L159.0 355.22L159.5 355.14L160.0 355.07L160.5 355.01L161.0 354.95L161.5 354.89L162.0 354.84L162.5 354.78L163.0 354.72L163.5 354.65L164.0 354.59L164.5 354.53L165.0 354.46L165.5 354.39L166.0 354.32L166.5 354.24L167.0 354.16L167.5 354.07L168.0 353.98L168.5 353.88L169.0 353.78L169.5 353.67L170.0 353.55L170.5 353.42L171.0 353.29L171.5 353.14L172.0 352.99L172.5 352.83L173.0 352.67L173.5 352.49L174.0 352.29L174.5 352.09L175.0 351.88L175.5 351.65L176.0 351.40L176.5 351.14L177.0 350.87L177.5 350.59L178.0 350.29L178.5 349.98L179.0 349.65L179.5 349.31L180.0 348.96L180.5 348.60L181.0 348.22L181.5 347.83L182.0 347.43L182.5 347.02L183.0 346.59L183.5 346.16L184.0 345.71L184.5 345.24L185.0 344.77L185.5 344.28L186.0 343.77L186.5 343.25L187.0 342.72L187.5 342.17L188.0 341.60L188.5 341.01L189.0 340.40L189.5 339.78L190.0 339.13L190.5 338.46L191.0 337.76L191.5 337.04L192.0 336.30L192.5 335.53L193.0 334.74L193.5 333.91L194.0 333.06L194.5 332.18L195.0 331.27L195.5 330.35L196.0 329.40L196.5 328.42L197.0 327.42L197.5 326.38L198.0 325.31L198.5 324.22L199.0 323.10L199.5 321.95L200.0 320.77L200.5 319.56L201.0 318.32L201.5 317.05L202.0 315.76L202.5 314.44L203.0 313.10L203.5 311.73L204.0 310.34L204.5 308.93L205.0 307.49L205.5 306.01L206.0 304.50L206.5 302.98L207.0 301.43L207.5 299.86L208.0 298.27L208.5 296.66L209.0 295.03L209.5 293.38L210.0 291.71L210.5 290.03L211.0 288.32L211.5 286.60L212.0 284.87L212.5 283.11L213.0 281.34L213.5 279.56L214.0 277.76L214.5 275.94L215.0 274.11L215.5 272.28L216.0 270.44L216.5 268.58L217.0 266.71L217.5 264.82L218.0 262.93L218.5 261.02L219.0 259.11L219.5 257.18L220.0 255.25L220.5 253.30L221.0 251.35L221.5 249.39L222.0 247.42L222.5 245.45L223.0 243.47L223.5 241.48L224.0 239.48L224.5 237.48L225.0 235.48L225.5 233.47L226.0 231.45L226.5 229.44L227.0 227.42L227.5 225.39L228.0 223.37L228.5 221.34L229.0 219.31L229.5 217.29L230.0 215.26L230.5 213.23L231.0 211.20L231.5 209.17L232.0 207.14L232.5 205.12L233.0 203.10L233.5 201.08L234.0 199.06L234.5 197.05L235.0 195.04L235.5 193.04L236.0 191.04L236.5 189.04L237.0 187.06L237.5 185.08L238.0 183.10L238.5 181.14L239.0 179.18L239.5 177.23L240.0 175.29L240.5 173.36L241.0 171.43L241.5 169.52L242.0 167.62L242.5 165.73L243.0 163.85L243.5 161.99L244.0 160.13L244.5 158.29L245.0 156.47L245.5 154.66L246.0 152.86L246.5 151.08L247.0 149.31L247.5 147.56L248.0 145.83L248.5 144.12L249.0 142.42L249.5 140.74L250.0 139.09L250.5 137.45L251.0 135.83L251.5 134.23L252.0 132.65L252.5 131.10L253.0 129.57L253.5 128.06L254.0 126.57L254.5 125.11L255.0 123.68L255.5 122.17L256.0 120.68L256.5 119.22L257.0 117.78L257.5 116.37L258.0 114.98L258.5 113.62L259.0 112.29L259.5 110.99L260.0 109.71L260.5 108.46L261.0 107.24L261.5 106.05L262.0 104.88L262.5 103.74L263.0 102.63L263.5 101.55L264.0 100.49L264.5 99.46L265.0 98.46L265.5 97.48L266.0 96.53L266.5 95.61L267.0 94.71L267.5 93.84L268.0 92.99L268.5 92.32L269.0 91.67L269.5 91.04L270.0 90.44L270.5 89.87L271.0 89.32L271.5 88.80L272.0 88.29L272.5 87.82L273.0 87.36L273.5 86.93L274.0 86.53L274.5 86.14L275.0 85.78L275.5 85.44L276.0 85.13L276.5 84.83L277.0 84.56L277.5 84.31L278.0 84.08L278.5 83.87L279.0 83.68L279.5 83.51L280.0 83.36L280.5 83.24L281.0 83.13L281.5 83.04L282.0 82.97L282.5 82.93L283.0 82.90L283.5 82.89L284.0 82.90L284.5 82.92L285.0 82.97L285.5 83.04L286.0 83.12L286.5 83.23L287.0 83.35L287.5 83.49L288.0 83.65L288.5 83.82L289.0 84.01L289.5 84.22L290.0 84.44L290.5 84.68L291.0 84.94L291.5 85.21L292.0 85.50L292.5 85.80L293.0 86.12L293.5 86.46L294.0 86.81L294.5 87.17L295.0 87.55L295.5 87.95L296.0 88.36L296.5 88.79L297.0 89.23L297.5 89.69L298.0 90.16L298.5 90.64L299.0 91.14L299.5 91.65L300.0 92.18L300.5 92.72L301.0 93.28L301.5 93.84L302.0 94.43L302.5 95.02L303.0 95.63L303.5 96.25L304.0 96.89L304.5 97.54L305.0 98.20L305.5 98.87L306.0 99.55L306.5 100.25L307.0 100.95L307.5 101.67L308.0 102.40L308.5 103.14L309.0 103.89L309.5 104.66L310.0 105.43L310.5 106.21L311.0 107.01L311.5 107.81L312.0 108.62L312.5 109.45L313.0 110.28L313.5 111.12L314.0 111.97L314.5 112.83L315.0 113.70L315.5 114.58L316.0 115.46L316.5 116.35L317.0 117.25L317.5 118.16L318.0 119.08L318.5 120.00L319.0 120.93L319.5 121.86L320.0 122.80L320.5 123.75L321.0 124.70L321.5 125.66L322.0 126.63L322.5 127.60L323.0 128.57L323.5 129.55L324.0 130.53L324.5 131.52L325.0 132.51L325.5 133.51L326.0 134.50L326.5 135.50L327.0 136.51L327.5 137.52L328.0 138.52L328.5 139.54L329.0 140.55L329.5 141.56L330.0 142.58L330.5 143.52L331.0 144.46L331.5 145.40L332.0 146.34L332.5 147.27L333.0 148.20L333.5 149.13L334.0 150.07L334.5 151.00L335.0 151.94L335.5 152.87L336.0 153.81L336.5 154.75L337.0 155.68L337.5 156.62L338.0 157.56L338.5 158.49L339.0 159.42L339.5 160.35L340.0 161.28L340.5 162.21L341.0 163.14L341.5 164.07L342.0 165.01L342.5 165.94L343.0 166.87L343.5 167.80L344.0 168.73L344.5 169.66L345.0 170.60L345.5 171.53L346.0 172.46L346.5 173.39L347.0 174.32L347.5 175.25L348.0 176.18L348.5 177.11L349.0 178.04L349.5 178.97L350.0 179.90L350.5 180.84L351.0 181.78L351.5 182.71L352.0 183.65L352.5 184.58L353.0 185.52L353.5 186.45L354.0 187.38L354.5 188.31L355.0 189.24L355.5 190.16L356.0 191.08L356.5 192.00L357.0 192.92L357.5 193.84L358.0 194.75L358.5 195.66L359.0 196.56L359.5 197.48L360.0 198.40L360.5 199.32L361.0 200.23L361.5 201.14L362.0 202.04L362.5 202.94L363.0 203.83L363.5 204.72L364.0 205.60L364.5 206.48L365.0 207.36L365.5 208.22L366.0 209.09L366.5 209.95L367.0 210.80L367.5 211.65L368.0 212.49L368.5 213.32L369.0 214.15L369.5 214.98L370.0 215.80L370.5 216.60L371.0 217.40L371.5 218.19L372.0 218.98L372.5 219.76L373.0 220.53L373.5 221.30L374.0 222.05L374.5 222.81L375.0 223.55L375.5 224.29L376.0 225.02L376.5 225.74L377.0 226.46L377.5 227.17L378.0 227.87L378.5 228.57L379.0 229.26L379.5 229.95L380.0 230.63L380.5 231.29L381.0 231.95L381.5 232.60L382.0 233.25L382.5 233.89L383.0 234.53L383.5 235.16L384.0 235.79L384.5 236.42L385.0 237.04L385.5 237.65L386.0 238.26L386.5 238.90L387.0 239.54L387.5 240.17L388.0 240.80L388.5 241.42L389.0 242.04L389.5 242.66L390.0 243.28L390.5 243.89L391.0 244.50L391.5 245.11L392.0 245.71L392.5 246.31L393.0 246.91L393.5 247.50L394.0 248.10L394.5 248.69L395.0 249.27L395.5 249.86L396.0 250.44L396.5 251.02L397.0 251.59L397.5 252.16L398.0 252.73L398.5 253.30L399.0 253.86L399.5 254.42L400.0 254.98L400.5 255.53L401.0 256.09L401.5 256.64L402.0 257.19L402.5 257.74L403.0 258.28L403.5 258.82L404.0 259.36L404.5 259.90L405.0 260.43L405.5 260.95L406.0 261.48L406.5 262.00L407.0 262.52L407.5 263.03L408.0 263.55L408.5 264.06L409.0 264.56L409.5 265.06L410.0 265.56L410.5 266.06L411.0 266.55L411.5 267.04L412.0 267.53L412.5 268.01L413.0 268.49L413.5 268.97L414.0 269.44L414.5 269.91L415.0 270.37L415.5 270.83L416.0 271.28L416.5 271.73L417.0 272.17L417.5 272.62L418.0 273.06L418.5 273.49L419.0 273.92L419.5 274.35L420.0 274.77L420.5 275.20L421.0 275.61L421.5 276.03L422.0 276.44L422.5 276.85L423.0 277.25L423.5 277.65L424.0 278.05L424.5 278.44L425.0 278.83L425.5 279.21L426.0 279.60L426.5 279.98L427.0 280.35L427.5 280.72L428.0 281.09L428.5 281.46L429.0 281.82L429.5 282.17L430.0 282.53L430.5 282.88L431.0 283.23L431.5 283.58L432.0 283.93L432.5 284.27L433.0 284.60L433.5 284.94L434.0 285.27L434.5 285.59L435.0 285.92L435.5 286.24L436.0 286.55L436.5 286.86L437.0 287.17L437.5 287.48L438.0 287.78L438.5 288.08L439.0 288.37L439.5 288.59L440.0 288.81L440.5 289.02L441.0 289.23L441.5 289.44L442.0 289.64L442.5 289.84L443.0 290.04L443.5 290.23L444.0 290.42L444.5 290.61L445.0 290.79L445.5 290.98L446.0 291.16L446.5 291.33L447.0 291.51L447.5 291.68L448.0 291.85L448.5 292.01L449.0 292.18L449.5 292.34L450.0 292.50L450.5 292.65L451.0 292.81L451.5 292.96L452.0 293.12L452.5 293.27L453.0 293.42L453.5 293.57L454.0 293.72L454.5 293.86L455.0 294.01L455.5 294.15L456.0 294.29L456.5 294.43L457.0 294.57L457.5 294.70L458.0 294.84L458.5 294.97L459.0 295.10L459.5 295.23L460.0 295.36L460.5 295.49L461.0 295.62L461.5 295.75L462.0 295.88L462.5 296.00L463.0 296.13L463.5 296.25L464.0 296.37L464.5 296.50L465.0 296.62L465.5 296.74L466.0 296.86L466.5 296.98L467.0 297.10L467.5 297.23L468.0 297.35L468.5 297.47L469.0 297.59L469.5 297.71L470.0 297.83L470.5 297.95L471.0 298.07L471.5 298.19L472.0 298.32L472.5 298.50L473.0 298.70L473.5 298.89L474.0 299.08L474.5 299.27L475.0 299.46L475.5 299.65L476.0 299.85L476.5 300.04L477.0 300.23L477.5 300.43L478.0 300.62L478.5 300.82L479.0 301.02L479.5 301.22L480.0 301.42L480.5 301.62L481.0 301.82L481.5 302.02L482.0 302.22L482.5 302.42L483.0 302.63L483.5 302.83L484.0 303.04L484.5 303.25L485.0 303.45L485.5 303.64L486.0 303.83L486.5 304.02L487.0 304.21L487.5 304.40L488.0 304.60L488.5 304.79L489.0 304.98L489.5 305.17L490.0 305.37L490.5 305.56L491.0 305.75L491.5 305.95L492.0 306.14L492.5 306.30L493.0 306.47L493.5 306.63L494.0 306.79L494.5 306.95L495.0 307.12L495.5 307.28L496.0 307.44L496.5 307.60L497.0 307.76L497.5 307.92L498.0 308.08L498.5 308.24L499.0 308.40L499.5 308.56L500.0 308.72L500.5 308.88L501.0 309.03L501.5 309.19L502.0 309.35L502.5 309.50L503.0 309.66L503.5 309.81L504.0 309.96L504.5 310.11L505.0 310.26L505.5 310.41L506.0 310.56L506.5 310.71L507.0 310.85L507.5 311.00L508.0 311.14L508.5 311.31L509.0 311.47L509.5 311.63L510.0 311.79L510.5 311.94L511.0 312.10L511.5 312.25L512.0 312.41L512.5 312.56L513.0 312.71L513.5 312.85L514.0 313.00L514.5 313.14L515.0 313.29L515.5 313.43L516.0 313.56L516.5 313.70L517.0 313.84L517.5 313.97L518.0 314.10L518.5 314.23L519.0 314.36L519.5 314.49L520.0 314.62L520.5 314.74L521.0 314.87L521.5 314.99L522.0 315.11L522.5 315.23L523.0 315.34L523.5 315.46L524.0 315.57L524.5 315.69L525.0 315.80L525.5 315.91L526.0 316.02L526.5 316.16L527.0 316.30L527.5 316.44L528.0 316.57L528.5 316.71L529.0 316.84L529.5 316.98L530.0 317.11L530.5 317.24L531.0 317.37L531.5 317.50L532.0 317.63L532.5 317.76L533.0 317.88L533.5 318.01L534.0 318.13L534.5 318.25L535.0 318.38L535.5 318.50L536.0 318.62L536.5 318.74L537.0 318.86L537.5 318.98L538.0 319.09L538.5 319.21L539.0 319.33L539.5 319.44L540.0 319.56L540.5 319.67L541.0 319.79L541.5 319.90L542.0 320.01L542.5 320.12L543.0 320.23L543.5 320.34L544.0 320.45L544.5 320.54L545.0 320.62L545.5 320.70L546.0 320.78L546.5 320.86L547.0 320.94L547.5 321.02L548.0 321.10L548.5 321.18L549.0 321.26L549.5 321.34L550.0 321.42L550.5 321.50L551.0 321.58L551.5 321.66L552.0 321.75L552.5 321.83L553.0 321.92L553.5 322.00L554.0 322.09L554.5 322.18L555.0 322.27L555.5 322.36L556.0 322.45L556.5 322.54L557.0 322.64L557.5 322.73L558.0 322.83L558.5 322.93L559.0 323.03L559.5 323.13L560.0 323.23L560.5 323.34L561.0 323.44L561.5 323.55L562.0 323.66L562.5 323.78L563.0 323.89L563.5 324.01L564.0 324.13L564.5 324.25L565.0 324.37L565.5 324.49L566.0 324.62L566.5 324.75L567.0 324.88L567.5 325.01L568.0 325.14L568.5 325.28L569.0 325.42L569.5 325.55L570.0 325.69L570.5 325.83L571.0 325.97L571.5 326.12L572.0 326.26L572.5 326.41L573.0 326.55L573.5 326.70L574.0 326.84L574.5 326.99L575.0 327.14L575.5 327.29L576.0 327.44L576.5 327.59L577.0 327.74L577.5 327.89L578.0 328.04L578.5 328.19L579.0 328.34L579.5 328.49L580.0 328.64L580.5 328.78L581.0 328.93L581.5 329.08L582.0 329.23L582.5 329.38L583.0 329.53L583.5 329.68L584.0 329.82L584.5 329.97L585.0 330.11L585.5 330.26L586.0 330.40L586.5 330.55L587.0 330.69L587.5 330.83L588.0 330.97L588.5 331.11L589.0 331.25L589.5 331.38L590.0 331.52L590.5 331.65L591.0 331.78L591.5 331.91L592.0 332.04L592.5 332.17L593.0 332.30L593.5 332.43L594.0 332.55L594.5 332.67L595.0 332.80L595.5 332.92L596.0 333.04L596.5 333.16L597.0 333.27L597.5 333.39L598.0 333.50L598.5 333.62L599.0 333.73L599.5 333.84L600.0 333.95L600.5 334.06L601.0 334.17L601.5 334.28L602.0 334.38L602.5 334.49L603.0 334.59L603.5 334.69L604.0 334.80L604.5 334.90L605.0 335.00L605.5 335.10L606.0 335.19L606.5 335.29L607.0 335.38L607.5 335.48L608.0 335.57L608.5 335.66L609.0 335.76L609.5 335.85L610.0 335.94L610.5 336.02L611.0 336.11L611.5 336.20L612.0 336.28L612.5 336.37L613.0 336.45L613.5 336.54L614.0 336.62L614.5 336.70L615.0 336.78L615.5 336.86L616.0 336.94L616.5 337.02L617.0 337.09L617.5 337.17L618.0 337.24L618.5 337.32L619.0 337.39L619.5 337.46L620.0 337.54L620.5 337.60L621.0 337.67L621.5 337.74L622.0 337.80L622.5 337.86L623.0 337.93L623.5 337.99L624.0 338.05L624.5 338.11L625.0 338.17L625.5 338.23L626.0 338.29L626.5 338.35L627.0 338.41L627.5 338.46L628.0 338.52L628.5 338.58L629.0 338.63L629.5 338.69L630.0 338.74L630.5 338.79L631.0 338.85L631.5 338.90L632.0 338.95L632.5 339.00L633.0 339.05L633.5 339.10L634.0 339.15L634.5 339.20L635.0 339.25L635.5 339.30L636.0 339.35L636.5 339.40L637.0 339.45L637.5 339.49L638.0 339.54L638.5 339.59L639.0 339.64L639.5 339.68L640.0 339.73L640.5 339.78L641.0 339.82L641.5 339.87L642.0 339.92L642.5 339.97L643.0 340.01L643.5 340.06L644.0 340.11L644.5 340.15L645.0 340.20L645.5 340.25L646.0 340.30L646.5 340.34L647.0 340.39L647.5 340.45L648.0 340.50L648.5 340.56L649.0 340.61L649.5 340.67L650.0 340.72L650.5 340.78L651.0 340.84L651.5 340.89L652.0 340.95L652.5 341.01L653.0 341.07L653.5 341.13L654.0 341.19L654.5 341.25L655.0 341.31L655.5 341.37L656.0 341.44L656.5 341.50L657.0 341.56L657.5 341.63L658.0 341.69L658.5 341.76L659.0 341.83L659.5 341.89L660.0 341.96L660.5 342.03L661.0 342.10L661.5 342.18L662.0 342.25L662.5 342.32L663.0 342.40L663.5 342.47L664.0 342.55L664.5 342.63L665.0 342.71L665.5 342.79L666.0 342.87L666.5 342.95L667.0 343.03L667.5 343.12L668.0 343.21L668.5 343.29L669.0 343.38L669.5 343.47L670.0 343.56L670.5 343.66L671.0 343.75L671.5 343.85L672.0 343.94L672.5 344.04L673.0 344.14L673.5 344.25L674.0 344.35L674.5 344.45L675.0 344.56L675.5 344.67L676.0 344.79L676.5 344.90L677.0 345.02L677.5 345.13L678.0 345.25L678.5 345.38L679.0 345.50L679.5 345.62L680.0 345.75L680.5 345.88L681.0 346.01L681.5 346.14L682.0 346.28L682.5 346.42L683.0 346.55L683.5 346.70L684.0 346.84L684.5 346.98L685.0 347.13L685.5 347.28L686.0 347.43L686.5 347.58L687.0 347.74L687.5 347.90L688.0 348.06L688.5 348.22L689.0 348.39L689.5 348.55L690.0 348.72" stroke="#0000ff" stroke-width="4.5"/>
<path d="M119.0 364.20L119.5 364.08L120.0 363.95L120.5 363.83L121.0 363.70L121.5 363.58L122.0 363.46L122.5 363.34L123.0 363.21L123.5 363.09L124.0 362.97L124.5 362.85L125.0 362.73L125.5 362.61L126.0 362.49L126.5 362.37L127.0 362.24L127.5 362.12L128.0 362.00L128.5 361.88L129.0 361.76L129.5 361.63L130.0 361.51L130.5 361.39L131.0 361.26L131.5 361.14L132.0 361.01L132.5 360.89L133.0 360.76L133.5 360.63L134.0 360.50L134.5 360.37L135.0 360.24L135.5 360.11L136.0 359.98L136.5 359.85L137.0 359.71L137.5 359.57L138.0 359.44L138.5 359.30L139.0 359.16L139.5 359.02L140.0 358.88L140.5 358.73L141.0 358.59L141.5 358.45L142.0 358.31L142.5 358.16L143.0 358.02L143.5 357.88L144.0 357.73L144.5 357.59L145.0 357.45L145.5 357.31L146.0 357.17L146.5 357.03L147.0 356.89L147.5 356.76L148.0 356.62L148.5 356.49L149.0 356.36L149.5 356.23L150.0 356.10L150.5 355.95L151.0 355.81L151.5 355.67L152.0 355.53L152.5 355.39L153.0 355.26L153.5 355.13L154.0 355.00L154.5 354.88L155.0 354.76L155.5 354.64L156.0 354.53L156.5 354.42L157.0 354.32L157.5 354.22L158.0 354.12L158.5 354.03L159.0 353.94L159.5 353.85L160.0 353.77L160.5 353.69L161.0 353.61L161.5 353.53L162.0 353.45L162.5 353.37L163.0 353.28L163.5 353.20L164.0 353.11L164.5 353.02L165.0 352.93L165.5 352.83L166.0 352.74L166.5 352.63L167.0 352.53L167.5 352.42L168.0 352.30L168.5 352.18L169.0 352.05L169.5 351.91L170.0 351.77L170.5 351.61L171.0 351.45L171.5 351.28L172.0 351.10L172.5 350.94L173.0 350.76L173.5 350.58L174.0 350.38L174.5 350.17L175.0 349.94L175.5 349.71L176.0 349.46L176.5 349.19L177.0 348.92L177.5 348.62L178.0 348.32L178.5 348.00L179.0 347.67L179.5 347.32L180.0 346.96L180.5 346.58L181.0 346.19L181.5 345.79L182.0 345.37L182.5 344.94L183.0 344.49L183.5 344.03L184.0 343.56L184.5 343.07L185.0 342.56L185.5 342.04L186.0 341.51L186.5 340.96L187.0 340.40L187.5 339.82L188.0 339.22L188.5 338.60L189.0 337.97L189.5 337.31L190.0 336.64L190.5 335.94L191.0 335.22L191.5 334.47L192.0 333.70L192.5 332.90L193.0 332.08L193.5 331.23L194.0 330.35L194.5 329.44L195.0 328.50L195.5 327.57L196.0 326.60L196.5 325.61L197.0 324.59L197.5 323.53L198.0 322.45L198.5 321.34L199.0 320.20L199.5 319.04L200.0 317.85L200.5 316.63L201.0 315.39L201.5 314.12L202.0 312.82L202.5 311.50L203.0 310.16L203.5 308.79L204.0 307.40L204.5 305.99L205.0 304.55L205.5 303.06L206.0 301.55L206.5 300.01L207.0 298.45L207.5 296.88L208.0 295.28L208.5 293.66L209.0 292.03L209.5 290.38L210.0 288.71L210.5 287.02L211.0 285.31L211.5 283.59L212.0 281.85L212.5 280.10L213.0 278.33L213.5 276.54L214.0 274.74L214.5 272.93L215.0 271.10L215.5 269.26L216.0 267.41L216.5 265.54L217.0 263.66L217.5 261.77L218.0 259.87L218.5 257.96L219.0 256.04L219.5 254.11L220.0 252.17L220.5 250.23L221.0 248.27L221.5 246.31L222.0 244.33L222.5 242.36L223.0 240.37L223.5 238.38L224.0 236.38L224.5 234.38L225.0 232.37L225.5 230.36L226.0 228.34L226.5 226.32L227.0 224.30L227.5 222.28L228.0 220.25L228.5 218.22L229.0 216.19L229.5 214.16L230.0 212.13L230.5 210.10L231.0 208.07L231.5 206.04L232.0 204.01L232.5 201.98L233.0 199.96L233.5 197.94L234.0 195.92L234.5 193.90L235.0 191.89L235.5 189.89L236.0 187.89L236.5 185.89L237.0 183.90L237.5 181.91L238.0 179.94L238.5 177.97L239.0 176.00L239.5 174.05L240.0 172.10L240.5 170.16L241.0 168.23L241.5 166.31L242.0 164.41L242.5 162.51L243.0 160.62L243.5 158.75L244.0 156.88L244.5 155.03L245.0 153.20L245.5 151.37L246.0 149.56L246.5 147.77L247.0 145.99L247.5 144.23L248.0 142.48L248.5 140.75L249.0 139.04L249.5 137.35L250.0 135.67L250.5 134.02L251.0 132.38L251.5 130.77L252.0 129.17L252.5 127.60L253.0 126.05L253.5 124.52L254.0 123.01L254.5 121.53L255.0 120.08L255.5 118.64L256.0 117.23L256.5 115.85L257.0 114.50L257.5 113.17L258.0 111.87L258.5 110.59L259.0 109.35L259.5 108.13L260.0 106.95L260.5 105.79L261.0 104.66L261.5 103.56L262.0 102.50L262.5 101.46L263.0 100.45L263.5 99.46L264.0 98.51L264.5 97.58L265.0 96.68L265.5 95.81L266.0 94.97L266.5 94.15L267.0 93.36L267.5 92.59L268.0 91.85L268.5 91.14L269.0 90.45L269.5 89.79L270.0 89.16L270.5 88.55L271.0 87.96L271.5 87.40L272.0 86.86L272.5 86.34L273.0 85.85L273.5 85.38L274.0 84.94L274.5 84.52L275.0 84.12L275.5 83.74L276.0 83.39L276.5 83.05L277.0 82.74L277.5 82.45L278.0 82.19L278.5 81.94L279.0 81.71L279.5 81.50L280.0 81.32L280.5 81.15L281.0 81.00L281.5 80.88L282.0 80.77L282.5 80.68L283.0 80.61L283.5 80.55L284.0 80.52L284.5 80.50L285.0 80.50L285.5 80.52L286.0 80.56L286.5 80.61L287.0 80.68L287.5 80.77L288.0 80.87L288.5 80.98L289.0 81.12L289.5 81.27L290.0 81.43L290.5 81.61L291.0 81.80L291.5 82.01L292.0 82.23L292.5 82.47L293.0 82.72L293.5 82.98L294.0 83.26L294.5 83.55L295.0 83.85L295.5 84.17L296.0 84.50L296.5 84.85L297.0 85.20L297.5 85.57L298.0 85.96L298.5 86.35L299.0 86.76L299.5 87.18L300.0 87.61L300.5 88.06L301.0 88.52L301.5 88.98L302.0 89.46L302.5 89.96L303.0 90.46L303.5 90.98L304.0 91.50L304.5 92.04L305.0 92.59L305.5 93.15L306.0 93.72L306.5 94.30L307.0 94.89L307.5 95.49L308.0 96.10L308.5 96.73L309.0 97.36L309.5 98.00L310.0 98.65L310.5 99.31L311.0 99.99L311.5 100.67L312.0 101.36L312.5 102.05L313.0 102.76L313.5 103.48L314.0 104.20L314.5 104.94L315.0 105.68L315.5 106.43L316.0 107.19L316.5 107.96L317.0 108.74L317.5 109.52L318.0 110.31L318.5 111.11L319.0 111.92L319.5 112.73L320.0 113.55L320.5 114.38L321.0 115.22L321.5 116.06L322.0 116.91L322.5 117.76L323.0 118.63L323.5 119.49L324.0 120.37L324.5 121.25L325.0 122.14L325.5 123.03L326.0 123.93L326.5 124.83L327.0 125.74L327.5 126.66L328.0 127.58L328.5 128.51L329.0 129.44L329.5 130.37L330.0 131.32L330.5 132.26L331.0 133.21L331.5 134.17L332.0 135.12L332.5 136.09L333.0 137.05L333.5 138.02L334.0 139.00L334.5 139.97L335.0 140.95L335.5 141.94L336.0 142.92L336.5 143.91L337.0 144.90L337.5 145.90L338.0 146.89L338.5 147.87L339.0 148.85L339.5 149.82L340.0 150.80L340.5 151.79L341.0 152.77L341.5 153.75L342.0 154.74L342.5 155.72L343.0 156.71L343.5 157.70L344.0 158.69L344.5 159.67L345.0 160.66L345.5 161.65L346.0 162.64L346.5 163.63L347.0 164.61L347.5 165.60L348.0 166.59L348.5 167.57L349.0 168.55L349.5 169.54L350.0 170.52L350.5 171.50L351.0 172.47L351.5 173.45L352.0 174.42L352.5 175.39L353.0 176.36L353.5 177.33L354.0 178.29L354.5 179.25L355.0 180.21L355.5 181.17L356.0 182.12L356.5 183.07L357.0 184.01L357.5 184.95L358.0 185.89L358.5 186.82L359.0 187.75L359.5 188.72L360.0 189.68L360.5 190.65L361.0 191.60L361.5 192.56L362.0 193.50L362.5 194.45L363.0 195.38L363.5 196.32L364.0 197.25L364.5 198.17L365.0 199.09L365.5 200.00L366.0 200.91L366.5 201.82L367.0 202.72L367.5 203.61L368.0 204.50L368.5 205.39L369.0 206.27L369.5 207.15L370.0 208.02L370.5 208.89L371.0 209.75L371.5 210.61L372.0 211.46L372.5 212.31L373.0 213.15L373.5 213.99L374.0 214.83L374.5 215.66L375.0 216.48L375.5 217.30L376.0 218.12L376.5 218.93L377.0 219.74L377.5 220.54L378.0 221.34L378.5 222.13L379.0 222.92L379.5 223.70L380.0 224.48L380.5 225.24L381.0 225.98L381.5 226.72L382.0 227.46L382.5 228.19L383.0 228.92L383.5 229.65L384.0 230.37L384.5 231.08L385.0 231.79L385.5 232.50L386.0 233.20L386.5 233.89L387.0 234.59L387.5 235.27L388.0 235.96L388.5 236.64L389.0 237.31L389.5 237.98L390.0 238.65L390.5 239.31L391.0 239.96L391.5 240.62L392.0 241.26L392.5 241.91L393.0 242.55L393.5 243.18L394.0 243.81L394.5 244.44L395.0 245.06L395.5 245.67L396.0 246.29L396.5 246.89L397.0 247.50L397.5 248.10L398.0 248.69L398.5 249.28L399.0 249.87L399.5 250.45L400.0 251.03L400.5 251.62L401.0 252.22L401.5 252.80L402.0 253.39L402.5 253.97L403.0 254.54L403.5 255.11L404.0 255.68L404.5 256.24L405.0 256.80L405.5 257.35L406.0 257.90L406.5 258.44L407.0 258.98L407.5 259.52L408.0 260.05L408.5 260.58L409.0 261.10L409.5 261.62L410.0 262.14L410.5 262.65L411.0 263.16L411.5 263.66L412.0 264.16L412.5 264.65L413.0 265.14L413.5 265.63L414.0 266.11L414.5 266.59L415.0 267.06L415.5 267.53L416.0 268.00L416.5 268.46L417.0 268.92L417.5 269.38L418.0 269.83L418.5 270.28L419.0 270.72L419.5 271.16L420.0 271.59L420.5 272.02L421.0 272.45L421.5 272.87L422.0 273.29L422.5 273.71L423.0 274.12L423.5 274.52L424.0 274.93L424.5 275.32L425.0 275.72L425.5 276.11L426.0 276.49L426.5 276.88L427.0 277.25L427.5 277.63L428.0 278.00L428.5 278.36L429.0 278.73L429.5 279.08L430.0 279.44L430.5 279.80L431.0 280.16L431.5 280.51L432.0 280.86L432.5 281.21L433.0 281.55L433.5 281.89L434.0 282.22L434.5 282.56L435.0 282.88L435.5 283.21L436.0 283.53L436.5 283.85L437.0 284.16L437.5 284.47L438.0 284.78L438.5 285.09L439.0 285.39L439.5 285.61L440.0 285.83L440.5 286.05L441.0 286.26L441.5 286.47L442.0 286.68L442.5 286.88L443.0 287.08L443.5 287.28L444.0 287.48L444.5 287.68L445.0 287.87L445.5 288.06L446.0 288.24L446.5 288.43L447.0 288.61L447.5 288.79L448.0 288.97L448.5 289.15L449.0 289.32L449.5 289.49L450.0 289.66L450.5 289.83L451.0 290.00L451.5 290.16L452.0 290.31L452.5 290.47L453.0 290.62L453.5 290.77L454.0 290.92L454.5 291.07L455.0 291.21L455.5 291.36L456.0 291.50L456.5 291.64L457.0 291.78L457.5 291.92L458.0 292.06L458.5 292.20L459.0 292.34L459.5 292.47L460.0 292.61L460.5 292.74L461.0 292.88L461.5 293.01L462.0 293.14L462.5 293.28L463.0 293.41L463.5 293.54L464.0 293.67L464.5 293.80L465.0 293.93L465.5 294.06L466.0 294.19L466.5 294.32L467.0 294.45L467.5 294.58L468.0 294.71L468.5 294.83L469.0 294.96L469.5 295.09L470.0 295.22L470.5 295.35L471.0 295.48L471.5 295.61L472.0 295.75L472.5 295.95L473.0 296.15L473.5 296.35L474.0 296.55L474.5 296.75L475.0 296.95L475.5 297.15L476.0 297.36L476.5 297.56L477.0 297.76L477.5 297.97L478.0 298.17L478.5 298.37L479.0 298.58L479.5 298.78L480.0 298.99L480.5 299.19L481.0 299.40L481.5 299.60L482.0 299.81L482.5 300.01L483.0 300.22L483.5 300.42L484.0 300.63L484.5 300.84L485.0 301.04L485.5 301.22L486.0 301.41L486.5 301.59L487.0 301.77L487.5 301.95L488.0 302.14L488.5 302.32L489.0 302.50L489.5 302.68L490.0 302.87L490.5 303.05L491.0 303.23L491.5 303.41L492.0 303.59L492.5 303.76L493.0 303.92L493.5 304.09L494.0 304.25L494.5 304.42L495.0 304.58L495.5 304.75L496.0 304.91L496.5 305.07L497.0 305.24L497.5 305.40L498.0 305.56L498.5 305.72L499.0 305.89L499.5 306.05L500.0 306.21L500.5 306.37L501.0 306.53L501.5 306.69L502.0 306.85L502.5 307.00L503.0 307.16L503.5 307.32L504.0 307.48L504.5 307.63L505.0 307.79L505.5 307.94L506.0 308.10L506.5 308.25L507.0 308.40L507.5 308.56L508.0 308.71L508.5 308.86L509.0 309.02L509.5 309.18L510.0 309.33L510.5 309.49L511.0 309.64L511.5 309.80L512.0 309.95L512.5 310.10L513.0 310.25L513.5 310.40L514.0 310.55L514.5 310.70L515.0 310.85L515.5 310.99L516.0 311.14L516.5 311.28L517.0 311.43L517.5 311.57L518.0 311.71L518.5 311.85L519.0 311.99L519.5 312.13L520.0 312.27L520.5 312.41L521.0 312.54L521.5 312.67L522.0 312.81L522.5 312.94L523.0 313.07L523.5 313.20L524.0 313.33L524.5 313.46L525.0 313.58L525.5 313.71L526.0 313.83L526.5 313.98L527.0 314.13L527.5 314.28L528.0 314.43L528.5 314.58L529.0 314.73L529.5 314.87L530.0 315.01L530.5 315.16L531.0 315.30L531.5 315.44L532.0 315.57L532.5 315.71L533.0 315.84L533.5 315.98L534.0 316.11L534.5 316.24L535.0 316.37L535.5 316.50L536.0 316.62L536.5 316.74L537.0 316.87L537.5 316.99L538.0 317.11L538.5 317.22L539.0 317.34L539.5 317.45L540.0 317.57L540.5 317.68L541.0 317.79L541.5 317.89L542.0 318.00L542.5 318.10L543.0 318.21L543.5 318.31L544.0 318.40L544.5 318.48L545.0 318.55L545.5 318.62L546.0 318.69L546.5 318.76L547.0 318.82L547.5 318.89L548.0 318.95L548.5 319.01L549.0 319.08L549.5 319.14L550.0 319.20L550.5 319.26L551.0 319.32L551.5 319.38L552.0 319.44L552.5 319.50L553.0 319.56L553.5 319.63L554.0 319.69L554.5 319.75L555.0 319.82L555.5 319.89L556.0 319.96L556.5 320.03L557.0 320.10L557.5 320.17L558.0 320.25L558.5 320.33L559.0 320.41L559.5 320.49L560.0 320.58L560.5 320.67L561.0 320.77L561.5 320.86L562.0 320.96L562.5 321.07L563.0 321.17L563.5 321.29L564.0 321.40L564.5 321.52L565.0 321.65L565.5 321.77L566.0 321.91L566.5 322.04L567.0 322.18L567.5 322.32L568.0 322.47L568.5 322.62L569.0 322.77L569.5 322.93L570.0 323.08L570.5 323.25L571.0 323.41L571.5 323.57L572.0 323.74L572.5 323.91L573.0 324.08L573.5 324.26L574.0 324.43L574.5 324.61L575.0 324.79L575.5 324.97L576.0 325.15L576.5 325.33L577.0 325.52L577.5 325.70L578.0 325.89L578.5 326.07L579.0 326.26L579.5 326.45L580.0 326.63L580.5 326.82L581.0 327.00L581.5 327.19L582.0 327.38L582.5 327.56L583.0 327.75L583.5 327.93L584.0 328.12L584.5 328.30L585.0 328.48L585.5 328.66L586.0 328.84L586.5 329.01L587.0 329.19L587.5 329.36L588.0 329.53L588.5 329.70L589.0 329.87L589.5 330.04L590.0 330.20L590.5 330.36L591.0 330.52L591.5 330.67L592.0 330.83L592.5 330.98L593.0 331.13L593.5 331.28L594.0 331.42L594.5 331.56L595.0 331.70L595.5 331.84L596.0 331.98L596.5 332.11L597.0 332.24L597.5 332.37L598.0 332.50L598.5 332.63L599.0 332.75L599.5 332.87L600.0 332.99L600.5 333.11L601.0 333.23L601.5 333.34L602.0 333.46L602.5 333.57L603.0 333.68L603.5 333.78L604.0 333.89L604.5 333.99L605.0 334.10L605.5 334.20L606.0 334.30L606.5 334.40L607.0 334.49L607.5 334.59L608.0 334.68L608.5 334.77L609.0 334.86L609.5 334.95L610.0 335.04L610.5 335.13L611.0 335.21L611.5 335.30L612.0 335.38L612.5 335.46L613.0 335.54L613.5 335.62L614.0 335.70L614.5 335.78L615.0 335.85L615.5 335.93L616.0 336.00L616.5 336.07L617.0 336.14L617.5 336.21L618.0 336.28L618.5 336.35L619.0 336.42L619.5 336.49L620.0 336.55L620.5 336.61L621.0 336.66L621.5 336.72L622.0 336.77L622.5 336.82L623.0 336.87L623.5 336.93L624.0 336.98L624.5 337.03L625.0 337.08L625.5 337.12L626.0 337.17L626.5 337.22L627.0 337.27L627.5 337.31L628.0 337.36L628.5 337.41L629.0 337.45L629.5 337.50L630.0 337.54L630.5 337.59L631.0 337.63L631.5 337.67L632.0 337.72L632.5 337.76L633.0 337.80L633.5 337.85L634.0 337.89L634.5 337.93L635.0 337.97L635.5 338.02L636.0 338.06L636.5 338.10L637.0 338.14L637.5 338.18L638.0 338.23L638.5 338.27L639.0 338.31L639.5 338.35L640.0 338.40L640.5 338.44L641.0 338.48L641.5 338.52L642.0 338.57L642.5 338.61L643.0 338.65L643.5 338.70L644.0 338.74L644.5 338.78L645.0 338.83L645.5 338.87L646.0 338.92L646.5 338.96L647.0 339.01L647.5 339.07L648.0 339.13L648.5 339.19L649.0 339.25L649.5 339.31L650.0 339.37L650.5 339.44L651.0 339.50L651.5 339.56L652.0 339.63L652.5 339.69L653.0 339.76L653.5 339.82L654.0 339.89L654.5 339.96L655.0 340.03L655.5 340.10L656.0 340.17L656.5 340.24L657.0 340.31L657.5 340.38L658.0 340.45L658.5 340.53L659.0 340.60L659.5 340.68L660.0 340.76L660.5 340.84L661.0 340.92L661.5 341.00L662.0 341.08L662.5 341.16L663.0 341.24L663.5 341.33L664.0 341.42L664.5 341.50L665.0 341.59L665.5 341.68L666.0 341.77L666.5 341.87L667.0 341.96L667.5 342.05L668.0 342.15L668.5 342.25L669.0 342.35L669.5 342.45L670.0 342.55L670.5 342.65L671.0 342.76L671.5 342.86L672.0 342.97L672.5 343.08L673.0 343.19L673.5 343.31L674.0 343.42L674.5 343.54L675.0 343.65L675.5 343.78L676.0 343.91L676.5 344.04L677.0 344.17L677.5 344.30L678.0 344.43L678.5 344.57L679.0 344.71L679.5 344.85L680.0 344.99L680.5 345.14L681.0 345.28L681.5 345.43L682.0 345.58L682.5 345.73L683.0 345.88L683.5 346.04L684.0 346.20L684.5 346.36L685.0 346.52L685.5 346.68L686.0 346.85L686.5 347.02L687.0 347.19L687.5 347.36L688.0 347.54L688.5 347.72L689.0 347.90L689.5 348.08L690.0 348.26" stroke="#008080" stroke-width="4.7"/>
<path d="M119.0 368.22L119.5 368.07L120.0 367.92L120.5 367.77L121.0 367.62L121.5 367.48L122.0 367.33L122.5 367.19L123.0 367.05L123.5 366.91L124.0 366.78L124.5 366.64L125.0 366.51L125.5 366.37L126.0 366.24L126.5 366.10L127.0 365.97L127.5 365.84L128.0 365.71L128.5 365.58L129.0 365.45L129.5 365.32L130.0 365.18L130.5 365.05L131.0 364.92L131.5 364.79L132.0 364.66L132.5 364.52L133.0 364.39L133.5 364.26L134.0 364.12L134.5 363.98L135.0 363.85L135.5 363.71L136.0 363.57L136.5 363.43L137.0 363.28L137.5 363.14L138.0 362.99L138.5 362.85L139.0 362.70L139.5 362.55L140.0 362.39L140.5 362.24L141.0 362.09L141.5 361.93L142.0 361.78L142.5 361.63L143.0 361.47L143.5 361.32L144.0 361.16L144.5 361.01L145.0 360.86L145.5 360.71L146.0 360.56L146.5 360.41L147.0 360.26L147.5 360.11L148.0 359.97L148.5 359.83L149.0 359.69L149.5 359.55L150.0 359.41L150.5 359.28L151.0 359.15L151.5 359.02L152.0 358.90L152.5 358.78L153.0 358.66L153.5 358.55L154.0 358.44L154.5 358.34L155.0 358.24L155.5 358.14L156.0 358.05L156.5 357.96L157.0 357.88L157.5 357.80L158.0 357.73L158.5 357.66L159.0 357.60L159.5 357.55L160.0 357.49L160.5 357.47L161.0 357.45L161.5 357.43L162.0 357.41L162.5 357.39L163.0 357.38L163.5 357.36L164.0 357.34L164.5 357.33L165.0 357.30L165.5 357.28L166.0 357.26L166.5 357.23L167.0 357.19L167.5 357.15L168.0 357.11L168.5 357.06L169.0 357.00L169.5 356.94L170.0 356.87L170.5 356.79L171.0 356.70L171.5 356.60L172.0 356.49L172.5 356.35L173.0 356.20L173.5 356.03L174.0 355.85L174.5 355.66L175.0 355.46L175.5 355.24L176.0 355.01L176.5 354.76L177.0 354.50L177.5 354.23L178.0 353.95L178.5 353.65L179.0 353.34L179.5 353.02L180.0 352.69L180.5 352.35L181.0 351.99L181.5 351.63L182.0 351.27L182.5 350.89L183.0 350.50L183.5 350.11L184.0 349.70L184.5 349.29L185.0 348.86L185.5 348.42L186.0 347.97L186.5 347.51L187.0 347.02L187.5 346.53L188.0 346.01L188.5 345.48L189.0 344.92L189.5 344.35L190.0 343.75L190.5 343.13L191.0 342.49L191.5 341.83L192.0 341.14L192.5 340.42L193.0 339.68L193.5 338.90L194.0 338.10L194.5 337.27L195.0 336.41L195.5 335.52L196.0 334.60L196.5 333.65L197.0 332.67L197.5 331.66L198.0 330.63L198.5 329.56L199.0 328.47L199.5 327.35L200.0 326.20L200.5 324.99L201.0 323.76L201.5 322.50L202.0 321.22L202.5 319.90L203.0 318.56L203.5 317.20L204.0 315.81L204.5 314.39L205.0 312.95L205.5 311.48L206.0 309.99L206.5 308.48L207.0 306.95L207.5 305.39L208.0 303.81L208.5 302.21L209.0 300.59L209.5 298.95L210.0 297.29L210.5 295.61L211.0 293.92L211.5 292.20L212.0 290.47L212.5 288.71L213.0 286.95L213.5 285.16L214.0 283.36L214.5 281.54L215.0 279.71L215.5 277.89L216.0 276.06L216.5 274.22L217.0 272.36L217.5 270.49L218.0 268.60L218.5 266.71L219.0 264.80L219.5 262.88L220.0 260.96L220.5 259.02L221.0 257.08L221.5 255.12L222.0 253.16L222.5 251.19L223.0 249.21L223.5 247.23L224.0 245.24L224.5 243.25L225.0 241.25L225.5 239.24L226.0 237.23L226.5 235.22L227.0 233.20L227.5 231.18L228.0 229.16L228.5 227.14L229.0 225.11L229.5 223.09L230.0 221.06L230.5 219.03L231.0 217.01L231.5 214.98L232.0 212.96L232.5 210.94L233.0 208.92L233.5 206.91L234.0 204.89L234.5 202.89L235.0 200.88L235.5 198.88L236.0 196.89L236.5 194.90L237.0 192.92L237.5 190.95L238.0 188.98L238.5 187.03L239.0 185.08L239.5 183.14L240.0 181.21L240.5 179.29L241.0 177.38L241.5 175.48L242.0 173.59L242.5 171.72L243.0 169.85L243.5 168.01L244.0 166.17L244.5 164.35L245.0 162.54L245.5 160.75L246.0 158.98L246.5 157.22L247.0 155.48L247.5 153.76L248.0 152.05L248.5 150.37L249.0 148.70L249.5 147.05L250.0 145.42L250.5 143.82L251.0 142.23L251.5 140.66L252.0 139.12L252.5 137.60L253.0 136.11L253.5 134.63L254.0 133.19L254.5 131.76L255.0 130.36L255.5 128.99L256.0 127.65L256.5 126.33L257.0 125.03L257.5 123.77L258.0 122.53L258.5 121.31L259.0 120.13L259.5 118.97L260.0 117.83L260.5 116.73L261.0 115.64L261.5 114.59L262.0 113.56L262.5 112.56L263.0 111.58L263.5 110.63L264.0 109.71L264.5 108.81L265.0 107.93L265.5 107.08L266.0 106.26L266.5 105.46L267.0 104.69L267.5 103.94L268.0 103.21L268.5 102.51L269.0 101.83L269.5 101.18L270.0 100.55L270.5 99.95L271.0 99.37L271.5 98.81L272.0 98.28L272.5 97.77L273.0 97.28L273.5 96.81L274.0 96.37L274.5 95.96L275.0 95.56L275.5 95.19L276.0 94.84L276.5 94.51L277.0 94.20L277.5 93.92L278.0 93.66L278.5 93.42L279.0 93.20L279.5 93.01L280.0 92.83L280.5 92.68L281.0 92.55L281.5 92.43L282.0 92.34L282.5 92.27L283.0 92.23L283.5 92.20L284.0 92.19L284.5 92.20L285.0 92.23L285.5 92.29L286.0 92.36L286.5 92.45L287.0 92.56L287.5 92.70L288.0 92.85L288.5 93.02L289.0 93.21L289.5 93.41L290.0 93.64L290.5 93.89L291.0 94.15L291.5 94.43L292.0 94.74L292.5 95.06L293.0 95.39L293.5 95.75L294.0 96.12L294.5 96.51L295.0 96.92L295.5 97.34L296.0 97.79L296.5 98.24L297.0 98.72L297.5 99.20L298.0 99.71L298.5 100.23L299.0 100.76L299.5 101.31L300.0 101.87L300.5 102.45L301.0 103.04L301.5 103.65L302.0 104.26L302.5 104.90L303.0 105.54L303.5 106.20L304.0 106.86L304.5 107.54L305.0 108.24L305.5 108.94L306.0 109.65L306.5 110.38L307.0 111.12L307.5 111.86L308.0 112.62L308.5 113.38L309.0 114.16L309.5 114.94L310.0 115.74L310.5 116.54L311.0 117.35L311.5 118.17L312.0 119.00L312.5 119.83L313.0 120.68L313.5 121.53L314.0 122.38L314.5 123.25L315.0 124.11L315.5 124.99L316.0 125.87L316.5 126.76L317.0 127.65L317.5 128.55L318.0 129.45L318.5 130.35L319.0 131.26L319.5 132.18L320.0 133.09L320.5 134.01L321.0 134.94L321.5 135.87L322.0 136.79L322.5 137.73L323.0 138.66L323.5 139.60L324.0 140.53L324.5 141.47L325.0 142.41L325.5 143.35L326.0 144.29L326.5 145.23L327.0 146.17L327.5 147.11L328.0 148.05L328.5 148.99L329.0 149.92L329.5 150.86L330.0 151.79L330.5 152.73L331.0 153.66L331.5 154.59L332.0 155.51L332.5 156.42L333.0 157.32L333.5 158.22L334.0 159.12L334.5 160.02L335.0 160.92L335.5 161.82L336.0 162.72L336.5 163.61L337.0 164.51L337.5 165.40L338.0 166.29L338.5 167.18L339.0 168.07L339.5 168.96L340.0 169.85L340.5 170.74L341.0 171.63L341.5 172.52L342.0 173.41L342.5 174.29L343.0 175.18L343.5 176.07L344.0 176.95L344.5 177.84L345.0 178.72L345.5 179.61L346.0 180.49L346.5 181.38L347.0 182.26L347.5 183.15L348.0 184.03L348.5 184.92L349.0 185.81L349.5 186.69L350.0 187.58L350.5 188.48L351.0 189.39L351.5 190.29L352.0 191.20L352.5 192.10L353.0 193.00L353.5 193.91L354.0 194.81L354.5 195.72L355.0 196.62L355.5 197.52L356.0 198.42L356.5 199.32L357.0 200.21L357.5 201.11L358.0 202.00L358.5 202.89L359.0 203.77L359.5 204.66L360.0 205.54L360.5 206.41L361.0 207.29L361.5 208.16L362.0 209.02L362.5 209.88L363.0 210.74L363.5 211.59L364.0 212.44L364.5 213.28L365.0 214.12L365.5 214.95L366.0 215.78L366.5 216.60L367.0 217.41L367.5 218.22L368.0 219.02L368.5 219.82L369.0 220.60L369.5 221.38L370.0 222.16L370.5 222.91L371.0 223.66L371.5 224.40L372.0 225.13L372.5 225.85L373.0 226.57L373.5 227.27L374.0 227.97L374.5 228.65L375.0 229.33L375.5 230.00L376.0 230.66L376.5 231.31L377.0 231.95L377.5 232.59L378.0 233.22L378.5 233.84L379.0 234.45L379.5 235.06L380.0 235.65L380.5 236.25L381.0 236.83L381.5 237.41L382.0 237.99L382.5 238.56L383.0 239.12L383.5 239.68L384.0 240.23L384.5 240.78L385.0 241.33L385.5 241.87L386.0 242.41L386.5 243.00L387.0 243.59L387.5 244.17L388.0 244.76L388.5 245.34L389.0 245.92L389.5 246.49L390.0 247.07L390.5 247.64L391.0 248.21L391.5 248.78L392.0 249.35L392.5 249.92L393.0 250.48L393.5 251.04L394.0 251.61L394.5 252.17L395.0 252.72L395.5 253.28L396.0 253.83L396.5 254.39L397.0 254.94L397.5 255.49L398.0 256.04L398.5 256.58L399.0 257.12L399.5 257.67L400.0 258.21L400.5 258.73L401.0 259.26L401.5 259.78L402.0 260.31L402.5 260.83L403.0 261.34L403.5 261.86L404.0 262.37L404.5 262.89L405.0 263.40L405.5 263.90L406.0 264.41L406.5 264.91L407.0 265.41L407.5 265.91L408.0 266.40L408.5 266.90L409.0 267.39L409.5 267.88L410.0 268.36L410.5 268.85L411.0 269.33L411.5 269.81L412.0 270.28L412.5 270.76L413.0 271.23L413.5 271.70L414.0 272.16L414.5 272.63L415.0 273.09L415.5 273.53L416.0 273.97L416.5 274.40L417.0 274.84L417.5 275.27L418.0 275.69L418.5 276.12L419.0 276.54L419.5 276.96L420.0 277.38L420.5 277.79L421.0 278.20L421.5 278.61L422.0 279.01L422.5 279.41L423.0 279.81L423.5 280.21L424.0 280.60L424.5 280.99L425.0 281.37L425.5 281.76L426.0 282.14L426.5 282.51L427.0 282.88L427.5 283.25L428.0 283.62L428.5 283.98L429.0 284.34L429.5 284.70L430.0 285.05L430.5 285.40L431.0 285.75L431.5 286.09L432.0 286.43L432.5 286.77L433.0 287.10L433.5 287.43L434.0 287.76L434.5 288.08L435.0 288.40L435.5 288.71L436.0 289.02L436.5 289.33L437.0 289.63L437.5 289.93L438.0 290.23L438.5 290.52L439.0 290.81L439.5 291.03L440.0 291.25L440.5 291.46L441.0 291.66L441.5 291.87L442.0 292.07L442.5 292.26L443.0 292.45L443.5 292.64L444.0 292.83L444.5 293.01L445.0 293.19L445.5 293.36L446.0 293.54L446.5 293.71L447.0 293.87L447.5 294.04L448.0 294.20L448.5 294.35L449.0 294.51L449.5 294.66L450.0 294.81L450.5 294.96L451.0 295.10L451.5 295.26L452.0 295.41L452.5 295.57L453.0 295.72L453.5 295.86L454.0 296.01L454.5 296.15L455.0 296.30L455.5 296.43L456.0 296.57L456.5 296.71L457.0 296.84L457.5 296.98L458.0 297.11L458.5 297.24L459.0 297.37L459.5 297.49L460.0 297.62L460.5 297.74L461.0 297.87L461.5 297.99L462.0 298.11L462.5 298.23L463.0 298.35L463.5 298.47L464.0 298.59L464.5 298.70L465.0 298.82L465.5 298.93L466.0 299.05L466.5 299.16L467.0 299.28L467.5 299.39L468.0 299.51L468.5 299.62L469.0 299.73L469.5 299.85L470.0 299.96L470.5 300.08L471.0 300.19L471.5 300.30L472.0 300.42L472.5 300.60L473.0 300.78L473.5 300.96L474.0 301.15L474.5 301.33L475.0 301.51L475.5 301.70L476.0 301.88L476.5 302.07L477.0 302.26L477.5 302.44L478.0 302.63L478.5 302.82L479.0 303.02L479.5 303.21L480.0 303.40L480.5 303.60L481.0 303.80L481.5 303.99L482.0 304.19L482.5 304.40L483.0 304.60L483.5 304.80L484.0 305.01L484.5 305.22L485.0 305.43L485.5 305.62L486.0 305.82L486.5 306.01L487.0 306.21L487.5 306.41L488.0 306.61L488.5 306.81L489.0 307.01L489.5 307.21L490.0 307.41L490.5 307.62L491.0 307.82L491.5 308.02L492.0 308.23L492.5 308.39L493.0 308.55L493.5 308.71L494.0 308.87L494.5 309.03L495.0 309.19L495.5 309.35L496.0 309.51L496.5 309.67L497.0 309.83L497.5 309.98L498.0 310.14L498.5 310.30L499.0 310.46L499.5 310.62L500.0 310.77L500.5 310.93L501.0 311.08L501.5 311.24L502.0 311.39L502.5 311.54L503.0 311.69L503.5 311.84L504.0 311.99L504.5 312.14L505.0 312.29L505.5 312.43L506.0 312.58L506.5 312.72L507.0 312.86L507.5 313.00L508.0 313.14L508.5 313.30L509.0 313.47L509.5 313.63L510.0 313.79L510.5 313.95L511.0 314.11L511.5 314.26L512.0 314.41L512.5 314.56L513.0 314.71L513.5 314.86L514.0 315.00L514.5 315.14L515.0 315.28L515.5 315.42L516.0 315.55L516.5 315.68L517.0 315.81L517.5 315.94L518.0 316.06L518.5 316.18L519.0 316.30L519.5 316.42L520.0 316.54L520.5 316.65L521.0 316.77L521.5 316.88L522.0 316.99L522.5 317.10L523.0 317.20L523.5 317.31L524.0 317.41L524.5 317.51L525.0 317.62L525.5 317.72L526.0 317.81L526.5 317.94L527.0 318.07L527.5 318.20L528.0 318.33L528.5 318.45L529.0 318.58L529.5 318.70L530.0 318.83L530.5 318.95L531.0 319.07L531.5 319.19L532.0 319.31L532.5 319.43L533.0 319.55L533.5 319.67L534.0 319.79L534.5 319.90L535.0 320.02L535.5 320.14L536.0 320.25L536.5 320.37L537.0 320.49L537.5 320.60L538.0 320.72L538.5 320.84L539.0 320.95L539.5 321.07L540.0 321.19L540.5 321.30L541.0 321.42L541.5 321.54L542.0 321.66L542.5 321.77L543.0 321.89L543.5 322.01L544.0 322.13L544.5 322.22L545.0 322.31L545.5 322.39L546.0 322.48L546.5 322.57L547.0 322.66L547.5 322.76L548.0 322.85L548.5 322.94L549.0 323.04L549.5 323.13L550.0 323.23L550.5 323.33L551.0 323.43L551.5 323.53L552.0 323.63L552.5 323.74L553.0 323.84L553.5 323.95L554.0 324.05L554.5 324.16L555.0 324.27L555.5 324.38L556.0 324.49L556.5 324.60L557.0 324.71L557.5 324.83L558.0 324.94L558.5 325.05L559.0 325.17L559.5 325.28L560.0 325.40L560.5 325.52L561.0 325.64L561.5 325.75L562.0 325.87L562.5 325.99L563.0 326.11L563.5 326.23L564.0 326.35L564.5 326.48L565.0 326.60L565.5 326.72L566.0 326.84L566.5 326.96L567.0 327.09L567.5 327.21L568.0 327.33L568.5 327.46L569.0 327.58L569.5 327.70L570.0 327.83L570.5 327.95L571.0 328.07L571.5 328.20L572.0 328.32L572.5 328.45L573.0 328.57L573.5 328.69L574.0 328.82L574.5 328.94L575.0 329.06L575.5 329.18L576.0 329.31L576.5 329.43L577.0 329.55L577.5 329.67L578.0 329.79L578.5 329.91L579.0 330.03L579.5 330.15L580.0 330.27L580.5 330.39L581.0 330.51L581.5 330.63L582.0 330.75L582.5 330.87L583.0 330.99L583.5 331.10L584.0 331.22L584.5 331.34L585.0 331.45L585.5 331.57L586.0 331.68L586.5 331.80L587.0 331.91L587.5 332.03L588.0 332.14L588.5 332.26L589.0 332.37L589.5 332.48L590.0 332.59L590.5 332.71L591.0 332.82L591.5 332.93L592.0 333.04L592.5 333.15L593.0 333.26L593.5 333.37L594.0 333.47L594.5 333.58L595.0 333.69L595.5 333.80L596.0 333.90L596.5 334.01L597.0 334.12L597.5 334.22L598.0 334.32L598.5 334.43L599.0 334.53L599.5 334.64L600.0 334.74L600.5 334.84L601.0 334.94L601.5 335.04L602.0 335.14L602.5 335.24L603.0 335.34L603.5 335.44L604.0 335.54L604.5 335.64L605.0 335.73L605.5 335.83L606.0 335.92L606.5 336.02L607.0 336.11L607.5 336.21L608.0 336.30L608.5 336.39L609.0 336.49L609.5 336.58L610.0 336.67L610.5 336.76L611.0 336.85L611.5 336.94L612.0 337.02L612.5 337.11L613.0 337.20L613.5 337.29L614.0 337.37L614.5 337.46L615.0 337.54L615.5 337.62L616.0 337.71L616.5 337.79L617.0 337.87L617.5 337.95L618.0 338.03L618.5 338.11L619.0 338.19L619.5 338.27L620.0 338.34L620.5 338.42L621.0 338.49L621.5 338.57L622.0 338.64L622.5 338.72L623.0 338.79L623.5 338.86L624.0 338.93L624.5 339.00L625.0 339.07L625.5 339.14L626.0 339.21L626.5 339.27L627.0 339.34L627.5 339.41L628.0 339.47L628.5 339.53L629.0 339.60L629.5 339.66L630.0 339.72L630.5 339.78L631.0 339.84L631.5 339.90L632.0 339.96L632.5 340.02L633.0 340.07L633.5 340.13L634.0 340.19L634.5 340.24L635.0 340.30L635.5 340.35L636.0 340.41L636.5 340.46L637.0 340.51L637.5 340.56L638.0 340.62L638.5 340.67L639.0 340.72L639.5 340.77L640.0 340.82L640.5 340.87L641.0 340.92L641.5 340.97L642.0 341.02L642.5 341.08L643.0 341.13L643.5 341.17L644.0 341.22L644.5 341.27L645.0 341.32L645.5 341.37L646.0 341.42L646.5 341.47L647.0 341.52L647.5 341.57L648.0 341.62L648.5 341.68L649.0 341.73L649.5 341.78L650.0 341.83L650.5 341.88L651.0 341.93L651.5 341.98L652.0 342.04L652.5 342.09L653.0 342.14L653.5 342.20L654.0 342.25L654.5 342.31L655.0 342.36L655.5 342.42L656.0 342.47L656.5 342.53L657.0 342.59L657.5 342.65L658.0 342.71L658.5 342.77L659.0 342.83L659.5 342.89L660.0 342.95L660.5 343.01L661.0 343.08L661.5 343.14L662.0 343.21L662.5 343.27L663.0 343.34L663.5 343.41L664.0 343.48L664.5 343.55L665.0 343.62L665.5 343.69L666.0 343.76L666.5 343.84L667.0 343.91L667.5 343.99L668.0 344.07L668.5 344.15L669.0 344.23L669.5 344.31L670.0 344.39L670.5 344.48L671.0 344.56L671.5 344.65L672.0 344.74L672.5 344.83L673.0 344.92L673.5 345.02L674.0 345.11L674.5 345.21L675.0 345.30L675.5 345.40L676.0 345.50L676.5 345.61L677.0 345.71L677.5 345.82L678.0 345.92L678.5 346.03L679.0 346.15L679.5 346.26L680.0 346.37L680.5 346.49L681.0 346.61L681.5 346.73L682.0 346.85L682.5 346.98L683.0 347.10L683.5 347.23L684.0 347.36L684.5 347.50L685.0 347.63L685.5 347.77L686.0 347.91L686.5 348.05L687.0 348.19L687.5 348.34L688.0 348.48L688.5 348.63L689.0 348.79L689.5 348.94L690.0 349.10" stroke="#ff00ff" stroke-width="4.35"/>
</g>
<g font-family="'Liberation Serif', serif" font-weight="bold" fill="#000" stroke="#000" stroke-width="0.3" style="font-kerning:none">
<text transform="translate(109.90,396.10) scale(1.0,1.05)" font-size="30px" letter-spacing="0.6" text-anchor="end">0</text>
<text transform="translate(109.90,349.16) scale(1.0,1.05)" font-size="30px" letter-spacing="0.6" text-anchor="end">100</text>
<text transform="translate(109.90,302.22) scale(1.0,1.05)" font-size="30px" letter-spacing="0.6" text-anchor="end">200</text>
<text transform="translate(109.90,255.29) scale(1.0,1.05)" font-size="30px" letter-spacing="0.6" text-anchor="end">300</text>
<text transform="translate(109.90,208.35) scale(1.0,1.05)" font-size="30px" letter-spacing="0.6" text-anchor="end">400</text>
<text transform="translate(109.90,161.41) scale(1.0,1.05)" font-size="30px" letter-spacing="0.6" text-anchor="end">500</text>
<text transform="translate(109.90,114.47) scale(1.0,1.05)" font-size="30px" letter-spacing="0.6" text-anchor="end">600</text>
<text transform="translate(109.90,67.54) scale(1.0,1.05)" font-size="30px" letter-spacing="0.6" text-anchor="end">700</text>
<text transform="translate(109.90,20.60) scale(1.0,1.05)" font-size="30px" letter-spacing="0.6" text-anchor="end">800</text>
<text transform="translate(150.20,421.60) scale(1.0,1.05)" font-size="30px" letter-spacing="1.3" text-anchor="middle">300</text>
<text transform="translate(230.20,421.60) scale(1.0,1.05)" font-size="30px" letter-spacing="1.3" text-anchor="middle">330</text>
<text transform="translate(310.20,421.60) scale(1.0,1.05)" font-size="30px" letter-spacing="1.3" text-anchor="middle">360</text>
<text transform="translate(390.20,421.60) scale(1.0,1.05)" font-size="30px" letter-spacing="1.3" text-anchor="middle">390</text>
<text transform="translate(470.20,421.60) scale(1.0,1.05)" font-size="30px" letter-spacing="1.3" text-anchor="middle">420</text>
<text transform="translate(550.20,421.60) scale(1.0,1.05)" font-size="30px" letter-spacing="1.3" text-anchor="middle">450</text>
<text transform="translate(630.20,421.60) scale(1.0,1.05)" font-size="30px" letter-spacing="1.3" text-anchor="middle">480</text>
<text transform="translate(404.70,468.30)" font-size="37px" letter-spacing="2.3" text-anchor="middle"><tspan font-size="39.2px">W</tspan><tspan dx="2.6">avelength (nm</tspan><tspan dx="2.2">)</tspan></text>
<text transform="translate(27.00,206.00) rotate(-90) scale(1.0,1.03)" font-size="38px" letter-spacing="0.6" text-anchor="middle">PL Intensity (a.u.)</text>
</g>
<rect x="476.1" y="21.5" width="180.69999999999993" height="177.9" fill="#fff" stroke="#000" stroke-width="1"/>
<g font-family="'Liberation Serif', serif" font-weight="bold" fill="#000" stroke="#000" stroke-width="0.3" style="font-kerning:none">
<line x1="480.9" y1="43.15" x2="536.6" y2="43.15" stroke="#000000" stroke-width="4.1" stroke-linecap="round"/>
<text transform="translate(544.40,50.60)" font-size="28.5px" letter-spacing="1.45" text-anchor="start">Blank</text>
<line x1="480.9" y1="78.57" x2="536.6" y2="78.57" stroke="#ff0000" stroke-width="4.1" stroke-linecap="round"/>
<text transform="translate(544.40,86.28) scale(1.03,1.055)" font-size="28.5px" letter-spacing="1.15" text-anchor="start">100 mM</text>
<line x1="480.9" y1="113.99" x2="536.6" y2="113.99" stroke="#0000ff" stroke-width="4.1" stroke-linecap="round"/>
<text transform="translate(544.40,121.66) scale(1.03,1.055)" font-size="28.5px" letter-spacing="1.15" text-anchor="start">200 mM</text>
<line x1="480.9" y1="149.41" x2="536.6" y2="149.41" stroke="#008080" stroke-width="4.1" stroke-linecap="round"/>
<text transform="translate(544.40,157.04) scale(1.03,1.055)" font-size="28.5px" letter-spacing="1.15" text-anchor="start">300 mM</text>
<line x1="480.9" y1="184.83" x2="536.6" y2="184.83" stroke="#ff00ff" stroke-width="4.1" stroke-linecap="round"/>
<text transform="translate(544.40,192.42) scale(1.03,1.055)" font-size="28.5px" letter-spacing="1.15" text-anchor="start">500 mM</text>
</g>
</svg>
</body></html>
